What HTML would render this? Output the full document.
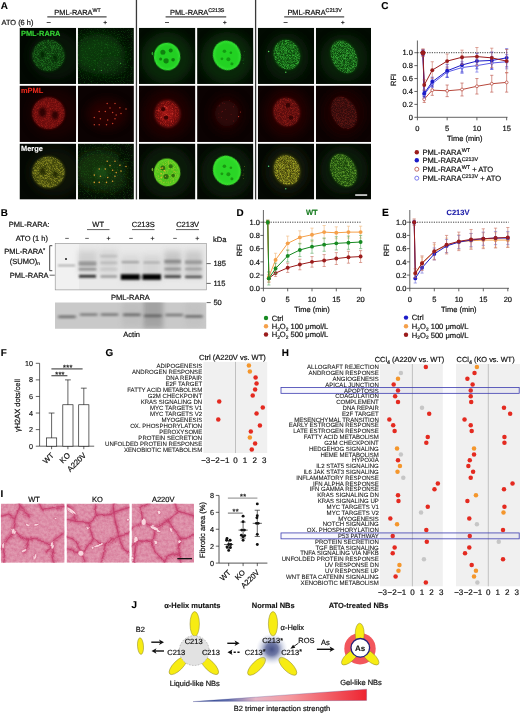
<!DOCTYPE html>
<html lang="en"><head><meta charset="utf-8"><title>Figure</title>
<style>
html,body{margin:0;padding:0;background:#fff;}
body{width:520px;height:713px;overflow:hidden;}
svg{display:block;}
svg text{font-family:"Liberation Sans",sans-serif;text-rendering:geometricPrecision;}
</style></head><body>
<svg width="520" height="713" viewBox="0 0 520 713">
<defs>

<filter id="spk1" x="-5%" y="-5%" width="110%" height="110%" color-interpolation-filters="sRGB">
  <feTurbulence type="fractalNoise" baseFrequency="1.6" numOctaves="1" seed="3" result="n"/>
  <feColorMatrix in="n" type="matrix" values="0 0 0 0 0  0 0 0 0 0  0 0 0 0 0  3 0 0 0 -1.2" result="a"/>
  <feComposite in="SourceGraphic" in2="a" operator="in"/><feGaussianBlur stdDeviation="0.3"/>
</filter>
<filter id="spk2" x="-5%" y="-5%" width="110%" height="110%" color-interpolation-filters="sRGB">
  <feTurbulence type="fractalNoise" baseFrequency="1.3" numOctaves="1" seed="11" result="n"/>
  <feColorMatrix in="n" type="matrix" values="0 0 0 0 0  0 0 0 0 0  0 0 0 0 0  0 4 0 0 -2.05" result="a"/>
  <feComposite in="SourceGraphic" in2="a" operator="in"/><feGaussianBlur stdDeviation="0.3"/>
</filter>
<filter id="spk3" x="-5%" y="-5%" width="110%" height="110%" color-interpolation-filters="sRGB">
  <feTurbulence type="turbulence" baseFrequency="0.6" numOctaves="2" seed="23" result="n"/>
  <feColorMatrix in="n" type="matrix" values="0 0 0 0 0  0 0 0 0 0  0 0 0 0 0  0 0 3 0 -0.5" result="a"/>
  <feComposite in="SourceGraphic" in2="a" operator="in"/><feGaussianBlur stdDeviation="0.3"/>
</filter>
<filter id="b1" x="-20%" y="-20%" width="140%" height="140%"><feGaussianBlur stdDeviation="0.8"/></filter>
<filter id="b2" x="-30%" y="-30%" width="160%" height="160%"><feGaussianBlur stdDeviation="2"/></filter>
<filter id="b5" x="-50%" y="-50%" width="200%" height="200%"><feGaussianBlur stdDeviation="5"/></filter>
<filter id="b05" x="-20%" y="-20%" width="140%" height="140%"><feGaussianBlur stdDeviation="0.45"/></filter>

<clipPath id="cl00"><rect x="19.5" y="27.8" width="56.7" height="56.15"/></clipPath>
<clipPath id="cl01"><rect x="19.5" y="85.55" width="56.7" height="56.4"/></clipPath>
<clipPath id="cl02"><rect x="19.5" y="143.55" width="56.7" height="56.05"/></clipPath>
<clipPath id="cl10"><rect x="77.8" y="27.8" width="56.1" height="56.15"/></clipPath>
<clipPath id="cl11"><rect x="77.8" y="85.55" width="56.1" height="56.4"/></clipPath>
<clipPath id="cl12"><rect x="77.8" y="143.55" width="56.1" height="56.05"/></clipPath>
<clipPath id="cl20"><rect x="138.9" y="27.8" width="56.5" height="56.15"/></clipPath>
<clipPath id="cl21"><rect x="138.9" y="85.55" width="56.5" height="56.4"/></clipPath>
<clipPath id="cl22"><rect x="138.9" y="143.55" width="56.5" height="56.05"/></clipPath>
<clipPath id="cl30"><rect x="197.1" y="27.8" width="56.3" height="56.15"/></clipPath>
<clipPath id="cl31"><rect x="197.1" y="85.55" width="56.3" height="56.4"/></clipPath>
<clipPath id="cl32"><rect x="197.1" y="143.55" width="56.3" height="56.05"/></clipPath>
<clipPath id="cl40"><rect x="257.8" y="27.8" width="56.4" height="56.15"/></clipPath>
<clipPath id="cl41"><rect x="257.8" y="85.55" width="56.4" height="56.4"/></clipPath>
<clipPath id="cl42"><rect x="257.8" y="143.55" width="56.4" height="56.05"/></clipPath>
<clipPath id="cl50"><rect x="315.8" y="27.8" width="55.2" height="56.15"/></clipPath>
<clipPath id="cl51"><rect x="315.8" y="85.55" width="55.2" height="56.4"/></clipPath>
<clipPath id="cl52"><rect x="315.8" y="143.55" width="55.2" height="56.05"/></clipPath>
<clipPath id="blot1"><rect x="55" y="243.2" width="151.5" height="46.8"/></clipPath>
<clipPath id="blot2"><rect x="55" y="302.4" width="151.5" height="26.4"/></clipPath>
<filter id="bb" x="-10%" y="-100%" width="120%" height="300%"><feGaussianBlur stdDeviation="1.3 0.8"/></filter>
<filter id="bb2" x="-10%" y="-100%" width="120%" height="300%"><feGaussianBlur stdDeviation="1.5 1.3"/></filter>
<filter id="bb3" x="-30%" y="-30%" width="160%" height="160%"><feGaussianBlur stdDeviation="2.5 3"/></filter>
<filter id="hn" x="0" y="0" width="100%" height="100%" color-interpolation-filters="sRGB">
<feTurbulence type="fractalNoise" baseFrequency="0.35" numOctaves="3" seed="5" result="n"/>
<feColorMatrix in="n" type="matrix" values="0 0 0 0 0.80  0 0 0 0 0.36  0 0 0 0 0.52  1.6 0 0 0 -0.5"/>
<feComposite in2="SourceGraphic" operator="in"/></filter>
<filter id="hdisp" x="-5%" y="-5%" width="110%" height="110%"><feTurbulence type="fractalNoise" baseFrequency="0.07" numOctaves="1" seed="8" result="t"/><feDisplacementMap in="SourceGraphic" in2="t" scale="7" xChannelSelector="R" yChannelSelector="G"/><feGaussianBlur stdDeviation="0.4"/></filter>
<filter id="hb2" x="-10%" y="-10%" width="120%" height="120%"><feGaussianBlur stdDeviation="1.2"/></filter>
<clipPath id="hc0"><rect x="0.8" y="503.6" width="63.8" height="59.2"/></clipPath>
<clipPath id="hc1"><rect x="66.6" y="503.6" width="63.0" height="59.2"/></clipPath>
<clipPath id="hc2"><rect x="131.6" y="503.6" width="62.4" height="59.2"/></clipPath>
<radialGradient id="nbblue" cx="50%" cy="50%" r="50%">
<stop offset="0" stop-color="#36427c" stop-opacity="0.92"/><stop offset="0.38" stop-color="#4c5890" stop-opacity="0.8"/><stop offset="0.7" stop-color="#9aa4c8" stop-opacity="0.4"/><stop offset="1" stop-color="#d0d6ea" stop-opacity="0"/></radialGradient>
<linearGradient id="trig" x1="0" y1="0" x2="1" y2="0">
<stop offset="0" stop-color="#1e3f8e"/><stop offset="0.2" stop-color="#5c6cac"/><stop offset="0.36" stop-color="#e6b6c6"/><stop offset="0.55" stop-color="#f59aa0"/><stop offset="1" stop-color="#ee2430"/></linearGradient>
</defs>
<rect x="0" y="0" width="520" height="713" fill="#ffffff"/>
<g id="panelA">
<text x="0.70" y="8.70" font-size="9.9" text-anchor="start" font-weight="bold" fill="#000"  stroke="#000" stroke-width="0.12">A</text>
<text x="77.6" y="14.6" font-size="7.4" text-anchor="middle" fill="#111" stroke="#111" stroke-width="0.2">PML-RARA<tspan font-size="5.3" dy="-2.6">WT</tspan></text>
<path d="M47.3 16.9H106.6" stroke="#4a4a4a" stroke-width="1.1"/>
<path d="M46.699999999999996 22.5H50.699999999999996" stroke="#222" stroke-width="0.8"/>
<path d="M103.5 22.5h3.4M105.19999999999999 20.8v3.4" stroke="#222" stroke-width="0.8"/>
<text x="197.2" y="14.6" font-size="7.4" text-anchor="middle" fill="#111" stroke="#111" stroke-width="0.2">PML-RARA<tspan font-size="5.3" dy="-2.6">C213S</tspan></text>
<path d="M165.6 16.9H226.2" stroke="#4a4a4a" stroke-width="1.1"/>
<path d="M165.0 22.5H169.0" stroke="#222" stroke-width="0.8"/>
<path d="M223.1 22.5h3.4M224.79999999999998 20.8v3.4" stroke="#222" stroke-width="0.8"/>
<text x="314.6" y="14.6" font-size="7.4" text-anchor="middle" fill="#111" stroke="#111" stroke-width="0.2">PML-RARA<tspan font-size="5.3" dy="-2.6">C213V</tspan></text>
<path d="M284.2 16.9H344.2" stroke="#4a4a4a" stroke-width="1.1"/>
<path d="M283.59999999999997 22.5H287.59999999999997" stroke="#222" stroke-width="0.8"/>
<path d="M341.09999999999997 22.5h3.4M342.8 20.8v3.4" stroke="#222" stroke-width="0.8"/>
<text x="1.60" y="25.00" font-size="7.4" text-anchor="start" font-weight="normal" fill="#111"  stroke="#111" stroke-width="0.2">ATO (6 h)</text>
<path d="M136.45 0V199.6M255.6 0V199.6" stroke="#3a3a3a" stroke-width="1.3"/>
<g clip-path="url(#cl00)"><rect x="19.5" y="27.8" width="56.7" height="56.15" fill="#020802"/><ellipse cx="54.5" cy="55.5" rx="26" ry="24" fill="#082408" opacity="0.5" filter="url(#b5)"/><ellipse cx="48.5" cy="55.5" rx="16.5" ry="16.0" fill="#0c3e0c" opacity="0.9" filter="url(#b1)"/><g filter="url(#spk1)" opacity="0.5"><ellipse cx="48.5" cy="55.5" rx="16.2" ry="15.7" fill="#32aa32" opacity="1"/></g><ellipse cx="42.5" cy="54.5" rx="2.6" ry="3.3" fill="#052005" opacity="0.85" filter="url(#b1)"/><ellipse cx="55.0" cy="57.5" rx="2.4" ry="2.9" fill="#052005" opacity="0.85" filter="url(#b1)"/></g>
<g clip-path="url(#cl01)"><rect x="19.5" y="85.55" width="56.7" height="56.4" fill="#0c0202"/><ellipse cx="54.5" cy="113.3" rx="26" ry="24" fill="#260404" opacity="0.5" filter="url(#b5)"/><ellipse cx="48.5" cy="113.3" rx="16.5" ry="16.0" fill="#700f0f" opacity="0.95" filter="url(#b1)"/><g filter="url(#spk1)" opacity="0.4"><ellipse cx="48.5" cy="113.3" rx="16.2" ry="15.7" fill="#cc2e24" opacity="1"/></g><ellipse cx="42.5" cy="112.3" rx="3.77" ry="4.784999999999999" fill="#240303" opacity="0.85" filter="url(#b1)"/><ellipse cx="55.0" cy="115.3" rx="3.48" ry="4.205" fill="#240303" opacity="0.85" filter="url(#b1)"/></g>
<g clip-path="url(#cl02)"><rect x="19.5" y="143.55" width="56.7" height="56.05" fill="#040803"/><ellipse cx="54.5" cy="172.2" rx="26" ry="24" fill="#141f08" opacity="0.5" filter="url(#b5)"/><ellipse cx="48.5" cy="172.2" rx="16.5" ry="16.0" fill="#454c0e" opacity="0.95" filter="url(#b1)"/><g filter="url(#spk1)" opacity="0.6"><ellipse cx="48.5" cy="172.2" rx="16.2" ry="15.7" fill="#c0bc32" opacity="1"/></g><ellipse cx="42.5" cy="171.2" rx="2.8600000000000003" ry="3.63" fill="#1a2206" opacity="0.85" filter="url(#b1)"/><ellipse cx="55.0" cy="174.2" rx="2.64" ry="3.19" fill="#1a2206" opacity="0.85" filter="url(#b1)"/></g>
<g clip-path="url(#cl10)"><rect x="77.8" y="27.8" width="56.1" height="56.15" fill="#031003"/><ellipse cx="99" cy="54" rx="26" ry="20" fill="#0f3c0f" opacity="0.9" filter="url(#b5)"/><ellipse cx="112" cy="66" rx="16" ry="10" fill="#0c300c" opacity="0.6" filter="url(#b5)"/><ellipse cx="123" cy="43.3" rx="2.6" ry="2.3" fill="#020802" opacity="0.9" filter="url(#b1)"/><g filter="url(#spk2)" opacity="0.3"><rect x="77.8" y="27.8" width="57" height="57" fill="#238a23"/></g><g fill="#40c040" opacity="0.7"><circle cx="107.9" cy="64.8" r="0.59"/><circle cx="101.6" cy="70.4" r="0.54"/><circle cx="101.8" cy="50.9" r="0.51"/><circle cx="106.0" cy="44.4" r="0.42"/><circle cx="94.2" cy="69.7" r="0.58"/><circle cx="89.4" cy="66.3" r="0.39"/><circle cx="107.7" cy="47.5" r="0.35"/><circle cx="117.9" cy="49.9" r="0.41"/><circle cx="104.6" cy="63.0" r="0.41"/><circle cx="120.6" cy="63.3" r="0.64"/><circle cx="118.7" cy="52.4" r="0.46"/><circle cx="89.6" cy="48.1" r="0.37"/><circle cx="95.1" cy="60.9" r="0.35"/><circle cx="110.1" cy="53.5" r="0.44"/></g></g>
<g clip-path="url(#cl11)"><rect x="77.8" y="85.55" width="56.1" height="56.4" fill="#0b0202"/><ellipse cx="107" cy="114" rx="20" ry="15" fill="#2e0606" opacity="0.8" filter="url(#b5)"/><g fill="#e04a32" opacity="0.85" filter="url(#b05)"><circle cx="107.2" cy="103.6" r="0.75"/><circle cx="115" cy="103.6" r="0.75"/><circle cx="119.9" cy="107.7" r="0.75"/><circle cx="126" cy="108.9" r="0.75"/><circle cx="99.2" cy="111.4" r="0.75"/><circle cx="105.3" cy="111.4" r="0.75"/><circle cx="112.6" cy="112.6" r="0.75"/><circle cx="116.2" cy="115" r="0.75"/><circle cx="94.3" cy="117.5" r="0.75"/><circle cx="100.4" cy="118.7" r="0.75"/><circle cx="107.7" cy="119.9" r="0.75"/><circle cx="115" cy="118.7" r="0.75"/><circle cx="99.2" cy="124.8" r="0.75"/><circle cx="106.5" cy="124.8" r="0.75"/><circle cx="112.6" cy="123.6" r="0.75"/><circle cx="94.3" cy="124.8" r="0.75"/><circle cx="121" cy="113.5" r="0.75"/><circle cx="110" cy="108" r="0.75"/></g></g>
<g clip-path="url(#cl12)"><rect x="77.8" y="143.55" width="56.1" height="56.05" fill="#050e04"/><ellipse cx="100" cy="170" rx="26" ry="20" fill="#183610" opacity="0.9" filter="url(#b5)"/><ellipse cx="112" cy="182" rx="16" ry="10" fill="#14300c" opacity="0.6" filter="url(#b5)"/><ellipse cx="101" cy="172" rx="7" ry="6" fill="#1e5216" opacity="0.7" filter="url(#b2)"/><ellipse cx="121.5" cy="158" rx="2.6" ry="2.3" fill="#020802" opacity="0.9" filter="url(#b1)"/><g filter="url(#spk2)" opacity="0.3"><rect x="77.8" y="143.55" width="57" height="57" fill="#2c8a23"/></g><g fill="#e8a034" opacity="0.9" filter="url(#b05)"><circle cx="107.2" cy="161.2" r="0.78"/><circle cx="115" cy="161.2" r="0.78"/><circle cx="119.9" cy="165.3" r="0.78"/><circle cx="126" cy="166.5" r="0.78"/><circle cx="99.2" cy="169.0" r="0.78"/><circle cx="105.3" cy="169.0" r="0.78"/><circle cx="112.6" cy="170.2" r="0.78"/><circle cx="116.2" cy="172.6" r="0.78"/><circle cx="94.3" cy="175.1" r="0.78"/><circle cx="100.4" cy="176.3" r="0.78"/><circle cx="107.7" cy="177.5" r="0.78"/><circle cx="115" cy="176.3" r="0.78"/><circle cx="99.2" cy="182.4" r="0.78"/><circle cx="106.5" cy="182.4" r="0.78"/><circle cx="112.6" cy="181.2" r="0.78"/><circle cx="94.3" cy="182.4" r="0.78"/><circle cx="121" cy="171.1" r="0.78"/><circle cx="110" cy="165.6" r="0.78"/></g></g>
<g clip-path="url(#cl20)"><rect x="138.9" y="27.8" width="56.5" height="56.15" fill="#020c02"/><ellipse cx="167.1" cy="58" rx="26" ry="26" fill="#0b300b" opacity="0.75" filter="url(#b5)"/><ellipse cx="167.1" cy="56.6" rx="13.1" ry="13.8" fill="#34e234" opacity="1" transform="rotate(-10 167.1 56.6)" filter="url(#b05)"/><ellipse cx="167.1" cy="56.6" rx="11.6" ry="12.3" fill="#22cf22" opacity="1" transform="rotate(-10 167.1 56.6)" filter="url(#b1)"/><ellipse cx="162.9" cy="52.2" rx="2.5" ry="2.5" fill="#0e7a0e" opacity="0.9" filter="url(#b05)"/><ellipse cx="170.7" cy="50.4" rx="2.0" ry="2.0" fill="#0e7a0e" opacity="0.9" filter="url(#b05)"/><ellipse cx="166.1" cy="60.800000000000004" rx="2.6" ry="2.6" fill="#0e7a0e" opacity="0.9" filter="url(#b05)"/><ellipse cx="173.1" cy="59.800000000000004" rx="1.8" ry="1.8" fill="#0e7a0e" opacity="0.9" filter="url(#b05)"/><ellipse cx="160.6" cy="59.1" rx="1.5" ry="1.5" fill="#0e7a0e" opacity="0.9" filter="url(#b05)"/><ellipse cx="152.4" cy="53.5" rx="0.8" ry="1.7" fill="#2fae2f" opacity="0.9"/></g>
<g clip-path="url(#cl21)"><rect x="138.9" y="85.55" width="56.5" height="56.4" fill="#0d0202"/><ellipse cx="167.1" cy="114" rx="24" ry="24" fill="#260505" opacity="0.75" filter="url(#b5)"/><ellipse cx="167.5" cy="113.8" rx="13.2" ry="14.2" fill="#6c0f0f" opacity="0.95" transform="rotate(-10 167.5 113.8)" filter="url(#b1)"/><ellipse cx="167.1" cy="114.0" rx="7.5" ry="8.5" fill="#a81818" opacity="0.7" filter="url(#b2)"/><g filter="url(#spk3)" opacity="0.5"><ellipse cx="167.1" cy="113.6" rx="12.0" ry="12.8" fill="#d02c22" opacity="1"/></g><g fill="#f05040" opacity="0.8"><circle cx="161.1" cy="117.4" r="0.65"/><circle cx="166.7" cy="107.9" r="0.71"/><circle cx="172.6" cy="113.8" r="0.60"/><circle cx="164.8" cy="115.3" r="0.44"/><circle cx="172.4" cy="108.2" r="0.50"/><circle cx="171.4" cy="121.1" r="0.64"/><circle cx="158.7" cy="110.2" r="0.60"/><circle cx="164.7" cy="106.7" r="0.71"/><circle cx="166.3" cy="114.6" r="0.54"/><circle cx="166.8" cy="107.3" r="0.43"/></g><ellipse cx="163.1" cy="109.2" rx="2.1" ry="2.1" fill="#340606" opacity="0.9" filter="url(#b05)"/><ellipse cx="166.1" cy="117.6" rx="2.2" ry="2.2" fill="#340606" opacity="0.9" filter="url(#b05)"/></g>
<g clip-path="url(#cl22)"><rect x="138.9" y="143.55" width="56.5" height="56.05" fill="#040903"/><ellipse cx="167.1" cy="172" rx="26" ry="26" fill="#0f2208" opacity="0.75" filter="url(#b5)"/><ellipse cx="167.1" cy="172.4" rx="13.1" ry="13.8" fill="#66d428" opacity="1" transform="rotate(-10 167.1 172.4)" filter="url(#b05)"/><ellipse cx="167.1" cy="172.4" rx="11.6" ry="12.3" fill="#50c41e" opacity="1" transform="rotate(-10 167.1 172.4)" filter="url(#b1)"/><g filter="url(#spk3)" opacity="0.42"><ellipse cx="167.1" cy="172.4" rx="11.5" ry="12.2" fill="#d8cc38" opacity="1"/></g><ellipse cx="162.9" cy="168.0" rx="2.5" ry="2.5" fill="#2a660c" opacity="0.9" filter="url(#b05)"/><ellipse cx="170.7" cy="166.20000000000002" rx="2.0" ry="2.0" fill="#2a660c" opacity="0.9" filter="url(#b05)"/><ellipse cx="166.1" cy="176.6" rx="2.6" ry="2.6" fill="#2a660c" opacity="0.9" filter="url(#b05)"/><ellipse cx="173.1" cy="175.6" rx="1.8" ry="1.8" fill="#2a660c" opacity="0.9" filter="url(#b05)"/><g fill="#f0b030" opacity="0.9"><circle cx="165.4" cy="176.3" r="0.55"/><circle cx="160.9" cy="168.2" r="0.81"/><circle cx="161.5" cy="177.3" r="0.77"/><circle cx="161.3" cy="173.6" r="0.68"/><circle cx="174.1" cy="171.3" r="0.57"/><circle cx="164.4" cy="170.6" r="0.89"/><circle cx="162.5" cy="167.9" r="0.74"/></g><ellipse cx="152.4" cy="169.5" rx="0.8" ry="1.7" fill="#80b830" opacity="0.9"/></g>
<g clip-path="url(#cl30)"><rect x="197.1" y="27.8" width="56.3" height="56.15" fill="#020c02"/><ellipse cx="226.9" cy="58" rx="26" ry="26" fill="#0b300b" opacity="0.75" filter="url(#b5)"/><ellipse cx="226.9" cy="55.4" rx="13.7" ry="14.9" fill="#34e234" opacity="1" transform="rotate(-25 226.9 55.4)" filter="url(#b05)"/><ellipse cx="226.9" cy="55.4" rx="12.2" ry="13.4" fill="#24d224" opacity="1" transform="rotate(-25 226.9 55.4)" filter="url(#b1)"/><ellipse cx="224.4" cy="51.3" rx="1.8" ry="1.8" fill="#119011" opacity="0.8" filter="url(#b05)"/><ellipse cx="228.4" cy="59.3" rx="2.0" ry="2.0" fill="#119011" opacity="0.8" filter="url(#b05)"/><ellipse cx="231.9" cy="63.8" rx="1.5" ry="1.5" fill="#119011" opacity="0.8" filter="url(#b05)"/><ellipse cx="221.9" cy="58.8" rx="1.4" ry="1.4" fill="#119011" opacity="0.8" filter="url(#b05)"/><ellipse cx="230.9" cy="52.8" rx="1.3" ry="1.3" fill="#119011" opacity="0.8" filter="url(#b05)"/><g fill="#2a9a2a" opacity="0.8"><circle cx="243.4" cy="55.0" r="0.35"/><circle cx="243.6" cy="63.4" r="0.34"/><circle cx="243.9" cy="58.9" r="0.33"/><circle cx="243.0" cy="60.3" r="0.44"/><circle cx="244.7" cy="51.5" r="0.38"/></g></g>
<g clip-path="url(#cl31)"><rect x="197.1" y="85.55" width="56.3" height="56.4" fill="#0b0202"/><ellipse cx="226.9" cy="114" rx="18" ry="20" fill="#220404" opacity="0.7" filter="url(#b5)"/><ellipse cx="226.9" cy="113.5" rx="12" ry="13" fill="#340808" opacity="0.7" filter="url(#b2)"/><g fill="#a82020" opacity="0.6"><circle cx="221.6" cy="117.8" r="0.47"/><circle cx="234.6" cy="104.8" r="0.35"/><circle cx="219.1" cy="105.9" r="0.48"/><circle cx="218.8" cy="113.8" r="0.35"/><circle cx="222.4" cy="111.2" r="0.51"/><circle cx="229.3" cy="100.4" r="0.36"/><circle cx="233.7" cy="121.0" r="0.50"/><circle cx="233.4" cy="106.7" r="0.51"/><circle cx="226.6" cy="119.6" r="0.44"/><circle cx="225.4" cy="109.5" r="0.40"/><circle cx="222.8" cy="103.1" r="0.50"/><circle cx="231.1" cy="114.4" r="0.48"/><circle cx="218.9" cy="117.6" r="0.41"/><circle cx="219.8" cy="105.3" r="0.43"/><circle cx="221.5" cy="111.9" r="0.45"/><circle cx="224.6" cy="103.4" r="0.42"/></g><circle cx="238.6" cy="116.6" r="0.6" fill="#d04030"/><circle cx="240.4" cy="112" r="0.5" fill="#c03828"/></g>
<g clip-path="url(#cl32)"><rect x="197.1" y="143.55" width="56.3" height="56.05" fill="#040903"/><ellipse cx="226.9" cy="172" rx="26" ry="26" fill="#0e2208" opacity="0.75" filter="url(#b5)"/><ellipse cx="226.9" cy="170.5" rx="13.7" ry="14.9" fill="#3ee632" opacity="1" transform="rotate(-25 226.9 170.5)" filter="url(#b05)"/><ellipse cx="226.9" cy="170.5" rx="12.2" ry="13.4" fill="#2cd626" opacity="1" transform="rotate(-25 226.9 170.5)" filter="url(#b1)"/><ellipse cx="224.4" cy="166.3" rx="1.8" ry="1.8" fill="#168a10" opacity="0.8" filter="url(#b05)"/><ellipse cx="228.4" cy="174.3" rx="2.0" ry="2.0" fill="#168a10" opacity="0.8" filter="url(#b05)"/><ellipse cx="231.9" cy="178.8" rx="1.5" ry="1.5" fill="#168a10" opacity="0.8" filter="url(#b05)"/><ellipse cx="221.9" cy="173.8" rx="1.4" ry="1.4" fill="#168a10" opacity="0.8" filter="url(#b05)"/><ellipse cx="230.9" cy="167.8" rx="1.3" ry="1.3" fill="#168a10" opacity="0.8" filter="url(#b05)"/><g fill="#a8a030" opacity="0.85"><circle cx="243.4" cy="170.0" r="0.35"/><circle cx="243.6" cy="178.4" r="0.34"/><circle cx="243.9" cy="173.9" r="0.33"/><circle cx="243.0" cy="175.3" r="0.44"/><circle cx="244.7" cy="166.5" r="0.38"/></g></g>
<g clip-path="url(#cl40)"><rect x="257.8" y="27.8" width="56.4" height="56.15" fill="#020b02"/><ellipse cx="286.9" cy="57" rx="22" ry="24" fill="#092609" opacity="0.7" filter="url(#b5)"/><ellipse cx="286.9" cy="54.8" rx="13.4" ry="15.6" fill="#0e4c0e" opacity="0.95" transform="rotate(-20 286.9 54.8)" filter="url(#b1)"/><g filter="url(#spk1)" opacity="0.68"><ellipse cx="286.9" cy="54.8" rx="13.0" ry="15.2" fill="#46d846" opacity="1" transform="rotate(-20 286.9 54.8)"/></g><g filter="url(#spk3)" opacity="0.3"><ellipse cx="286.9" cy="54.8" rx="13.0" ry="15.2" fill="#38c438" opacity="1" transform="rotate(-20 286.9 54.8)"/></g><circle cx="268.6" cy="51.6" r="0.75" fill="#58d858"/><circle cx="285.8" cy="72.2" r="0.7" fill="#50d050"/></g>
<g clip-path="url(#cl41)"><rect x="257.8" y="85.55" width="56.4" height="56.4" fill="#0d0202"/><ellipse cx="286.9" cy="113" rx="22" ry="24" fill="#2a0505" opacity="0.75" filter="url(#b5)"/><ellipse cx="286.59999999999997" cy="112.0" rx="13.6" ry="14.8" fill="#5c0b0b" opacity="0.95" transform="rotate(-20 286.59999999999997 112.0)" filter="url(#b1)"/><g filter="url(#spk1)" opacity="0.42"><ellipse cx="286.59999999999997" cy="112.0" rx="13.0" ry="14.4" fill="#d03024" opacity="1" transform="rotate(-20 286.59999999999997 112.0)"/></g><ellipse cx="287.9" cy="105.2" rx="2.2" ry="2.6" fill="#260404" opacity="0.8" filter="url(#b05)"/><ellipse cx="290.9" cy="117.5" rx="2.2" ry="2.2" fill="#260404" opacity="0.7" filter="url(#b05)"/></g>
<g clip-path="url(#cl42)"><rect x="257.8" y="143.55" width="56.4" height="56.05" fill="#040803"/><ellipse cx="286.9" cy="170" rx="22" ry="24" fill="#121c08" opacity="0.75" filter="url(#b5)"/><ellipse cx="286.9" cy="170.1" rx="13.4" ry="15.8" fill="#4a4a0d" opacity="0.95" transform="rotate(-20 286.9 170.1)" filter="url(#b1)"/><g filter="url(#spk1)" opacity="0.62"><ellipse cx="286.9" cy="170.1" rx="13.0" ry="15.4" fill="#e0d838" opacity="1" transform="rotate(-20 286.9 170.1)"/></g><g filter="url(#spk3)" opacity="0.3"><ellipse cx="286.9" cy="170.1" rx="13.0" ry="15.4" fill="#a8c42e" opacity="1" transform="rotate(-20 286.9 170.1)"/></g><circle cx="268.6" cy="166.2" r="0.75" fill="#50d878"/><circle cx="285.8" cy="188.8" r="0.7" fill="#50d070"/></g>
<g clip-path="url(#cl50)"><rect x="315.8" y="27.8" width="55.2" height="56.15" fill="#020b02"/><ellipse cx="344.0" cy="58" rx="24" ry="24" fill="#092a09" opacity="0.7" filter="url(#b5)"/><ellipse cx="344.0" cy="56.8" rx="12.8" ry="17.6" fill="#0f4a0f" opacity="0.9" transform="rotate(-26 344.0 56.8)" filter="url(#b1)"/><g filter="url(#spk1)" opacity="0.62"><ellipse cx="344.0" cy="56.8" rx="12.4" ry="17.2" fill="#50e050" opacity="1" transform="rotate(-26 344.0 56.8)"/></g><g filter="url(#spk3)" opacity="0.25"><ellipse cx="344.0" cy="56.8" rx="12.4" ry="17.2" fill="#38c838" opacity="1" transform="rotate(-26 344.0 56.8)"/></g></g>
<g clip-path="url(#cl51)"><rect x="315.8" y="85.55" width="55.2" height="56.4" fill="#0c0202"/><ellipse cx="344.0" cy="113" rx="22" ry="24" fill="#240404" opacity="0.75" filter="url(#b5)"/><ellipse cx="344.0" cy="112.8" rx="12.6" ry="17.2" fill="#340707" opacity="0.9" transform="rotate(-26 344.0 112.8)" filter="url(#b1)"/><g filter="url(#spk1)" opacity="0.3"><ellipse cx="344.0" cy="112.8" rx="12.2" ry="17" fill="#c83226" opacity="1" transform="rotate(-26 344.0 112.8)"/></g></g>
<g clip-path="url(#cl52)"><rect x="315.8" y="143.55" width="55.2" height="56.05" fill="#040903"/><ellipse cx="344.0" cy="170" rx="24" ry="24" fill="#102208" opacity="0.75" filter="url(#b5)"/><ellipse cx="343.4" cy="170.3" rx="12.8" ry="17.6" fill="#1f4a0f" opacity="0.9" transform="rotate(-26 343.4 170.3)" filter="url(#b1)"/><g filter="url(#spk1)" opacity="0.52"><ellipse cx="343.4" cy="170.3" rx="12.4" ry="17.2" fill="#98e044" opacity="1" transform="rotate(-26 343.4 170.3)"/></g><g filter="url(#spk3)" opacity="0.22"><ellipse cx="343.4" cy="170.3" rx="12.4" ry="17.2" fill="#60c834" opacity="1" transform="rotate(-26 343.4 170.3)"/></g><rect x="355.2" y="194.3" width="12" height="1.5" fill="#f0f0f0"/></g>
<text x="21.00" y="35.60" font-size="7.4" text-anchor="start" font-weight="bold" fill="#36da36"  stroke="#36da36" stroke-width="0.12">PML-RARA</text>
<text x="21.00" y="93.20" font-size="7.4" text-anchor="start" font-weight="bold" fill="#ea2a1e"  stroke="#ea2a1e" stroke-width="0.12">mPML</text>
<text x="21.00" y="151.30" font-size="7.4" text-anchor="start" font-weight="bold" fill="#ffffff"  stroke="#ffffff" stroke-width="0.12">Merge</text>
</g>
<g id="panelB">
<text x="0.70" y="216.20" font-size="9.9" text-anchor="start" font-weight="bold" fill="#000"  stroke="#000" stroke-width="0.12">B</text>
<text x="8.80" y="226.90" font-size="7.5" text-anchor="start" font-weight="normal" fill="#111"  stroke="#111" stroke-width="0.2">PML-RARA:</text>
<text x="48.00" y="240.70" font-size="7.5" text-anchor="end" font-weight="normal" fill="#111"  stroke="#111" stroke-width="0.2">ATO (1 h)</text>
<text x="98.20" y="226.60" font-size="7.5" text-anchor="middle" font-weight="normal" fill="#111"  stroke="#111" stroke-width="0.2">WT</text>
<path d="M87 229.6H109.5" stroke="#333" stroke-width="0.8"/>
<text x="143.20" y="226.60" font-size="7.5" text-anchor="middle" font-weight="normal" fill="#111"  stroke="#111" stroke-width="0.2">C213S</text>
<path d="M132 229.6H154.5" stroke="#333" stroke-width="0.8"/>
<text x="187.60" y="226.60" font-size="7.5" text-anchor="middle" font-weight="normal" fill="#111"  stroke="#111" stroke-width="0.2">C213V</text>
<path d="M176 229.6H199" stroke="#333" stroke-width="0.8"/>
<path d="M65.2 238.4h3.6" stroke="#222" stroke-width="0.7"/>
<path d="M85.2 238.4h3.6" stroke="#222" stroke-width="0.7"/>
<path d="M106.7 238.4h3.6M108.5 236.6v3.6" stroke="#222" stroke-width="0.7"/>
<path d="M129.2 238.4h3.6" stroke="#222" stroke-width="0.7"/>
<path d="M150.7 238.4h3.6M152.5 236.6v3.6" stroke="#222" stroke-width="0.7"/>
<path d="M173.2 238.4h3.6" stroke="#222" stroke-width="0.7"/>
<path d="M195.5 238.4h3.6M197.3 236.6v3.6" stroke="#222" stroke-width="0.7"/>
<text x="213.00" y="242.00" font-size="7.5" text-anchor="start" font-weight="normal" fill="#111"  stroke="#111" stroke-width="0.2">kDa</text>
<text x="45.3" y="254.2" font-size="7.5" text-anchor="end" fill="#111" stroke="#111" stroke-width="0.2">PML-RARA<tspan font-size="5.6" dy="-2.2">*</tspan></text>
<text x="39.9" y="263.6" font-size="7.5" text-anchor="end" fill="#111" stroke="#111" stroke-width="0.2">(SUMO)<tspan font-size="4.8" dy="1.6">n</tspan></text>
<path d="M52.3 245.7H49.7V270.7H52.3" fill="none" stroke="#222" stroke-width="0.85"/>
<text x="48.60" y="277.80" font-size="7.5" text-anchor="end" font-weight="normal" fill="#111"  stroke="#111" stroke-width="0.2">PML-RARA</text>
<path d="M49.6 275.2H54.8" stroke="#222" stroke-width="0.7"/>
<g clip-path="url(#blot1)"><rect x="55" y="243.2" width="151.5" height="47" fill="#e9e9e9"/><rect x="55" y="243.2" width="24" height="46.5" fill="#f1f1f1"/><rect x="78.0" y="251.00" width="19" height="22" fill="#bbbbbb" opacity="0.55" filter="url(#bb3)"/><rect x="99.5" y="250.00" width="18" height="24" fill="#c4c4c4" opacity="0.5" filter="url(#bb3)"/><rect x="120.8" y="255.00" width="19" height="26" fill="#c8c8c8" opacity="0.5" filter="url(#bb3)"/><rect x="142.2" y="255.00" width="19" height="26" fill="#c4c4c4" opacity="0.55" filter="url(#bb3)"/><rect x="164.2" y="251.00" width="17" height="26" fill="#b4b4b4" opacity="0.65" filter="url(#bb3)"/><rect x="185.0" y="251.00" width="17" height="26" fill="#b8b8b8" opacity="0.65" filter="url(#bb3)"/><rect x="58.0" y="264.85" width="17" height="1.3" fill="#808080" opacity="0.85" filter="url(#bb)"/><circle cx="66" cy="259" r="1.0" fill="#1a1a1a"/><rect x="78.8" y="261.70" width="17.5" height="1.6" fill="#6a6a6a" opacity="0.8" filter="url(#bb)"/><rect x="78.8" y="263.70" width="17.5" height="1.6" fill="#666" opacity="0.8" filter="url(#bb)"/><rect x="78.8" y="268.20" width="17.5" height="2.0" fill="#6c6c6c" opacity="0.8" filter="url(#bb)"/><rect x="79.0" y="275.00" width="17" height="2.6" fill="#222" opacity="1" filter="url(#bb)"/><rect x="100.3" y="255.20" width="17" height="2.0" fill="#aaa" opacity="0.7" filter="url(#bb)"/><rect x="100.3" y="261.70" width="17" height="2.2" fill="#a8a8a8" opacity="0.7" filter="url(#bb)"/><rect x="100.3" y="268.60" width="17" height="1.6" fill="#b0b0b0" opacity="0.7" filter="url(#bb)"/><rect x="100.5" y="275.50" width="16.5" height="2.0" fill="#777" opacity="0.85" filter="url(#bb)"/><rect x="120.8" y="274.20" width="19" height="5.6" fill="#000" opacity="1" filter="url(#bb)"/><rect x="121.6" y="261.40" width="17.5" height="1.6" fill="#808080" opacity="0.85" filter="url(#bb)"/><rect x="142.4" y="274.20" width="18.6" height="5.6" fill="#000" opacity="1" filter="url(#bb)"/><rect x="143.4" y="261.75" width="16.5" height="1.5" fill="#909090" opacity="0.8" filter="url(#bb)"/><rect x="138.5" y="276.20" width="5" height="2" fill="#555" opacity="0.6" filter="url(#bb)"/><rect x="164.4" y="259.80" width="16.5" height="3.6" fill="#808080" opacity="0.85" filter="url(#bb)"/><rect x="164.5" y="268.00" width="16.3" height="2" fill="#7a7a7a" opacity="0.8" filter="url(#bb)"/><rect x="164.5" y="275.30" width="16.3" height="2.6" fill="#383838" opacity="1" filter="url(#bb)"/><rect x="185.0" y="260.50" width="17" height="3.4" fill="#8e8e8e" opacity="0.85" filter="url(#bb)"/><rect x="185.1" y="268.10" width="16.8" height="1.8" fill="#868686" opacity="0.8" filter="url(#bb)"/><rect x="185.1" y="275.70" width="16.8" height="2.4" fill="#484848" opacity="1" filter="url(#bb)"/></g>
<rect x="55.2" y="243.5" width="151.2" height="46.4" fill="none" stroke="#909090" stroke-width="0.6"/>
<path d="M206.6 263.6H210.8M206.6 283.4H210.8M206.6 302.6H210.8" stroke="#222" stroke-width="0.7"/>
<text x="213.40" y="266.20" font-size="7.5" text-anchor="start" font-weight="normal" fill="#111"  stroke="#111" stroke-width="0.2">185</text>
<text x="213.40" y="286.00" font-size="7.5" text-anchor="start" font-weight="normal" fill="#111"  stroke="#111" stroke-width="0.2">115</text>
<text x="213.40" y="305.20" font-size="7.5" text-anchor="start" font-weight="normal" fill="#111"  stroke="#111" stroke-width="0.2">50</text>
<text x="130.50" y="299.60" font-size="7.5" text-anchor="middle" font-weight="normal" fill="#111"  stroke="#111" stroke-width="0.2">PML-RARA</text>
<g clip-path="url(#blot2)"><rect x="55" y="302" width="151.5" height="27" fill="#c9c9c9"/><rect x="143.0" y="295.00" width="20" height="34" fill="#9c9c9c" opacity="0.85" filter="url(#bb3)"/><rect x="122.3" y="301.00" width="19" height="26" fill="#b8b8b8" opacity="0.6" filter="url(#bb3)"/><rect x="185.3" y="301.00" width="17" height="26" fill="#bcbcbc" opacity="0.5" filter="url(#bb3)"/><rect x="58.2" y="315.40" width="17.5" height="2.8" fill="#707070" opacity="0.95" filter="url(#bb2)"/><rect x="80.0" y="313.20" width="17.5" height="2.8" fill="#808080" opacity="0.95" filter="url(#bb2)"/><rect x="100.8" y="313.20" width="17.5" height="2.8" fill="#7c7c7c" opacity="0.95" filter="url(#bb2)"/><rect x="123.1" y="313.40" width="17.5" height="2.8" fill="#6c6c6c" opacity="0.95" filter="url(#bb2)"/><rect x="144.2" y="314.40" width="17.5" height="2.8" fill="#666" opacity="0.95" filter="url(#bb2)"/><rect x="165.4" y="313.60" width="17.5" height="2.8" fill="#7a7a7a" opacity="0.95" filter="url(#bb2)"/><rect x="185.1" y="315.00" width="17.5" height="2.8" fill="#707070" opacity="0.95" filter="url(#bb2)"/></g>
<text x="131.70" y="336.80" font-size="7.5" text-anchor="middle" font-weight="normal" fill="#111"  stroke="#111" stroke-width="0.2">Actin</text>
</g>
<g id="panelC">
<text x="381.20" y="8.60" font-size="9.9" text-anchor="start" font-weight="bold" fill="#000"  stroke="#000" stroke-width="0.12">C</text>
<path d="M417.40 40.50V117.30H507.50" fill="none" stroke="#3c3c3c" stroke-width="0.8"/>
<path d="M414.40 117.30H417.40" stroke="#3c3c3c" stroke-width="0.8"/>
<text x="412.90" y="120.00" font-size="7.5" text-anchor="end" font-weight="normal" fill="#111"  stroke="#111" stroke-width="0.2">0</text>
<path d="M414.40 104.38H417.40" stroke="#3c3c3c" stroke-width="0.8"/>
<text x="412.90" y="107.08" font-size="7.5" text-anchor="end" font-weight="normal" fill="#111"  stroke="#111" stroke-width="0.2">0.2</text>
<path d="M414.40 91.46H417.40" stroke="#3c3c3c" stroke-width="0.8"/>
<text x="412.90" y="94.16" font-size="7.5" text-anchor="end" font-weight="normal" fill="#111"  stroke="#111" stroke-width="0.2">0.4</text>
<path d="M414.40 78.54H417.40" stroke="#3c3c3c" stroke-width="0.8"/>
<text x="412.90" y="81.24" font-size="7.5" text-anchor="end" font-weight="normal" fill="#111"  stroke="#111" stroke-width="0.2">0.6</text>
<path d="M414.40 65.62H417.40" stroke="#3c3c3c" stroke-width="0.8"/>
<text x="412.90" y="68.32" font-size="7.5" text-anchor="end" font-weight="normal" fill="#111"  stroke="#111" stroke-width="0.2">0.8</text>
<path d="M414.40 52.70H417.40" stroke="#3c3c3c" stroke-width="0.8"/>
<text x="412.90" y="55.40" font-size="7.5" text-anchor="end" font-weight="normal" fill="#111"  stroke="#111" stroke-width="0.2">1.0</text>
<path d="M417.40 117.30v3" stroke="#3c3c3c" stroke-width="0.8"/>
<text x="417.40" y="130.60" font-size="7.5" text-anchor="middle" font-weight="normal" fill="#111"  stroke="#111" stroke-width="0.2">0</text>
<path d="M447.15 117.30v3" stroke="#3c3c3c" stroke-width="0.8"/>
<text x="447.15" y="130.60" font-size="7.5" text-anchor="middle" font-weight="normal" fill="#111"  stroke="#111" stroke-width="0.2">5</text>
<path d="M476.90 117.30v3" stroke="#3c3c3c" stroke-width="0.8"/>
<text x="476.90" y="130.60" font-size="7.5" text-anchor="middle" font-weight="normal" fill="#111"  stroke="#111" stroke-width="0.2">10</text>
<path d="M506.65 117.30v3" stroke="#3c3c3c" stroke-width="0.8"/>
<text x="506.65" y="130.60" font-size="7.5" text-anchor="middle" font-weight="normal" fill="#111"  stroke="#111" stroke-width="0.2">15</text>
<text x="464.72" y="140.70" font-size="7.5" text-anchor="middle" font-weight="normal" fill="#111"  stroke="#111" stroke-width="0.2">Time (min)</text>
<text x="396.40" y="79.90" font-size="7.5" text-anchor="middle" font-weight="normal" fill="#111" transform="rotate(-90 396.40 79.90)" stroke="#111" stroke-width="0.2">RFI</text>
<path d="M417.40 52.70H507.65" stroke="#111" stroke-width="0.8" stroke-dasharray="1.2 1.2"/>
<path d="M422.99 49.47V55.93M421.39 49.47h3.2M421.39 55.93h3.2" stroke="#b8483c" stroke-width="0.7" fill="none" opacity="0.85"/>
<path d="M424.24 95.98V102.44M422.64 95.98h3.2M422.64 102.44h3.2" stroke="#b8483c" stroke-width="0.7" fill="none" opacity="0.85"/>
<path d="M432.27 85.00V95.34M430.67 85.00h3.2M430.67 95.34h3.2" stroke="#b8483c" stroke-width="0.7" fill="none" opacity="0.85"/>
<path d="M447.15 85.00V96.63M445.55 85.00h3.2M445.55 96.63h3.2" stroke="#b8483c" stroke-width="0.7" fill="none" opacity="0.85"/>
<path d="M462.02 83.06V95.98M460.42 83.06h3.2M460.42 95.98h3.2" stroke="#b8483c" stroke-width="0.7" fill="none" opacity="0.85"/>
<path d="M476.90 78.54V94.04M475.30 78.54h3.2M475.30 94.04h3.2" stroke="#b8483c" stroke-width="0.7" fill="none" opacity="0.85"/>
<path d="M491.77 75.31V92.11M490.17 75.31h3.2M490.17 92.11h3.2" stroke="#b8483c" stroke-width="0.7" fill="none" opacity="0.85"/>
<path d="M506.65 72.73V92.11M505.05 72.73h3.2M505.05 92.11h3.2" stroke="#b8483c" stroke-width="0.7" fill="none" opacity="0.85"/>
<path d="M422.99 52.70 L424.24 99.21 L432.27 90.17 L447.15 90.81 L462.02 89.52 L476.90 86.29 L491.77 83.71 L506.65 82.42" fill="none" stroke="#b8483c" stroke-width="1.0"/>
<circle cx="422.99" cy="52.70" r="1.45" fill="#fff" stroke="#b8483c" stroke-width="0.75"/>
<circle cx="424.24" cy="99.21" r="1.45" fill="#fff" stroke="#b8483c" stroke-width="0.75"/>
<circle cx="432.27" cy="90.17" r="1.45" fill="#fff" stroke="#b8483c" stroke-width="0.75"/>
<circle cx="447.15" cy="90.81" r="1.45" fill="#fff" stroke="#b8483c" stroke-width="0.75"/>
<circle cx="462.02" cy="89.52" r="1.45" fill="#fff" stroke="#b8483c" stroke-width="0.75"/>
<circle cx="476.90" cy="86.29" r="1.45" fill="#fff" stroke="#b8483c" stroke-width="0.75"/>
<circle cx="491.77" cy="83.71" r="1.45" fill="#fff" stroke="#b8483c" stroke-width="0.75"/>
<circle cx="506.65" cy="82.42" r="1.45" fill="#fff" stroke="#b8483c" stroke-width="0.75"/>
<path d="M422.99 50.12V55.28M421.39 50.12h3.2M421.39 55.28h3.2" stroke="#5a5ae6" stroke-width="0.7" fill="none" opacity="0.85"/>
<path d="M424.24 91.46V97.92M422.64 91.46h3.2M422.64 97.92h3.2" stroke="#5a5ae6" stroke-width="0.7" fill="none" opacity="0.85"/>
<path d="M432.27 79.83V87.58M430.67 79.83h3.2M430.67 87.58h3.2" stroke="#5a5ae6" stroke-width="0.7" fill="none" opacity="0.85"/>
<path d="M447.15 66.91V77.25M445.55 66.91h3.2M445.55 77.25h3.2" stroke="#5a5ae6" stroke-width="0.7" fill="none" opacity="0.85"/>
<path d="M462.02 61.74V73.37M460.42 61.74h3.2M460.42 73.37h3.2" stroke="#5a5ae6" stroke-width="0.7" fill="none" opacity="0.85"/>
<path d="M476.90 59.16V72.08M475.30 59.16h3.2M475.30 72.08h3.2" stroke="#5a5ae6" stroke-width="0.7" fill="none" opacity="0.85"/>
<path d="M491.77 56.58V69.50M490.17 56.58h3.2M490.17 69.50h3.2" stroke="#5a5ae6" stroke-width="0.7" fill="none" opacity="0.85"/>
<path d="M506.65 54.64V68.85M505.05 54.64h3.2M505.05 68.85h3.2" stroke="#5a5ae6" stroke-width="0.7" fill="none" opacity="0.85"/>
<path d="M422.99 52.70 L424.24 94.69 L432.27 83.71 L447.15 72.08 L462.02 67.56 L476.90 65.62 L491.77 63.04 L506.65 61.74" fill="none" stroke="#5a5ae6" stroke-width="1.0"/>
<circle cx="422.99" cy="52.70" r="1.45" fill="#fff" stroke="#5a5ae6" stroke-width="0.75"/>
<circle cx="424.24" cy="94.69" r="1.45" fill="#fff" stroke="#5a5ae6" stroke-width="0.75"/>
<circle cx="432.27" cy="83.71" r="1.45" fill="#fff" stroke="#5a5ae6" stroke-width="0.75"/>
<circle cx="447.15" cy="72.08" r="1.45" fill="#fff" stroke="#5a5ae6" stroke-width="0.75"/>
<circle cx="462.02" cy="67.56" r="1.45" fill="#fff" stroke="#5a5ae6" stroke-width="0.75"/>
<circle cx="476.90" cy="65.62" r="1.45" fill="#fff" stroke="#5a5ae6" stroke-width="0.75"/>
<circle cx="491.77" cy="63.04" r="1.45" fill="#fff" stroke="#5a5ae6" stroke-width="0.75"/>
<circle cx="506.65" cy="61.74" r="1.45" fill="#fff" stroke="#5a5ae6" stroke-width="0.75"/>
<path d="M422.99 50.12V55.28M421.39 50.12h3.2M421.39 55.28h3.2" stroke="#1c1cc8" stroke-width="0.7" fill="none" opacity="0.85"/>
<path d="M424.24 90.17V96.63M422.64 90.17h3.2M422.64 96.63h3.2" stroke="#1c1cc8" stroke-width="0.7" fill="none" opacity="0.85"/>
<path d="M432.27 77.25V86.29M430.67 77.25h3.2M430.67 86.29h3.2" stroke="#1c1cc8" stroke-width="0.7" fill="none" opacity="0.85"/>
<path d="M447.15 64.33V77.25M445.55 64.33h3.2M445.55 77.25h3.2" stroke="#1c1cc8" stroke-width="0.7" fill="none" opacity="0.85"/>
<path d="M462.02 57.87V72.08M460.42 57.87h3.2M460.42 72.08h3.2" stroke="#1c1cc8" stroke-width="0.7" fill="none" opacity="0.85"/>
<path d="M476.90 53.35V68.85M475.30 53.35h3.2M475.30 68.85h3.2" stroke="#1c1cc8" stroke-width="0.7" fill="none" opacity="0.85"/>
<path d="M491.77 52.05V68.85M490.17 52.05h3.2M490.17 68.85h3.2" stroke="#1c1cc8" stroke-width="0.7" fill="none" opacity="0.85"/>
<path d="M506.65 48.82V66.91M505.05 48.82h3.2M505.05 66.91h3.2" stroke="#1c1cc8" stroke-width="0.7" fill="none" opacity="0.85"/>
<path d="M422.99 52.70 L424.24 93.40 L432.27 81.77 L447.15 70.79 L462.02 64.97 L476.90 61.10 L491.77 60.45 L506.65 57.87" fill="none" stroke="#1c1cc8" stroke-width="1.0"/>
<circle cx="422.99" cy="52.70" r="1.95" fill="#1c1cc8"/>
<circle cx="424.24" cy="93.40" r="1.95" fill="#1c1cc8"/>
<circle cx="432.27" cy="81.77" r="1.95" fill="#1c1cc8"/>
<circle cx="447.15" cy="70.79" r="1.95" fill="#1c1cc8"/>
<circle cx="462.02" cy="64.97" r="1.95" fill="#1c1cc8"/>
<circle cx="476.90" cy="61.10" r="1.95" fill="#1c1cc8"/>
<circle cx="491.77" cy="60.45" r="1.95" fill="#1c1cc8"/>
<circle cx="506.65" cy="57.87" r="1.95" fill="#1c1cc8"/>
<path d="M422.99 48.82V56.58M421.39 48.82h3.2M421.39 56.58h3.2" stroke="#c86a5a" stroke-width="0.7" fill="none" opacity="0.85"/>
<path d="M424.24 79.83V90.17M422.64 79.83h3.2M422.64 90.17h3.2" stroke="#c86a5a" stroke-width="0.7" fill="none" opacity="0.85"/>
<path d="M432.27 61.74V78.54M430.67 61.74h3.2M430.67 78.54h3.2" stroke="#c86a5a" stroke-width="0.7" fill="none" opacity="0.85"/>
<path d="M447.15 53.99V68.20M445.55 53.99h3.2M445.55 68.20h3.2" stroke="#c86a5a" stroke-width="0.7" fill="none" opacity="0.85"/>
<path d="M462.02 50.12V64.33M460.42 50.12h3.2M460.42 64.33h3.2" stroke="#c86a5a" stroke-width="0.7" fill="none" opacity="0.85"/>
<path d="M476.90 47.53V65.62M475.30 47.53h3.2M475.30 65.62h3.2" stroke="#c86a5a" stroke-width="0.7" fill="none" opacity="0.85"/>
<path d="M491.77 48.18V67.56M490.17 48.18h3.2M490.17 67.56h3.2" stroke="#c86a5a" stroke-width="0.7" fill="none" opacity="0.85"/>
<path d="M506.65 49.47V72.73M505.05 49.47h3.2M505.05 72.73h3.2" stroke="#c86a5a" stroke-width="0.7" fill="none" opacity="0.85"/>
<path d="M422.99 52.70 L424.24 85.00 L432.27 70.14 L447.15 61.10 L462.02 57.22 L476.90 56.58 L491.77 57.87 L506.65 61.10" fill="none" stroke="#9b1c1c" stroke-width="1.0"/>
<circle cx="422.99" cy="52.70" r="1.95" fill="#9b1c1c"/>
<circle cx="424.24" cy="85.00" r="1.95" fill="#9b1c1c"/>
<circle cx="432.27" cy="70.14" r="1.95" fill="#9b1c1c"/>
<circle cx="447.15" cy="61.10" r="1.95" fill="#9b1c1c"/>
<circle cx="462.02" cy="57.22" r="1.95" fill="#9b1c1c"/>
<circle cx="476.90" cy="56.58" r="1.95" fill="#9b1c1c"/>
<circle cx="491.77" cy="57.87" r="1.95" fill="#9b1c1c"/>
<circle cx="506.65" cy="61.10" r="1.95" fill="#9b1c1c"/>
<circle cx="422.99" cy="52.7" r="2.5" fill="#9b1c1c"/>
<circle cx="416.8" cy="152.2" r="2.2" fill="#9b1c1c"/>
<text x="422.4" y="155.0" font-size="7.6" fill="#111" stroke="#111" stroke-width="0.2">PML-RARA<tspan font-size="5.4" dy="-2.6">WT</tspan><tspan dy="2.6"></tspan></text>
<circle cx="416.8" cy="160.3" r="2.2" fill="#1c1cc8"/>
<text x="422.4" y="163.10000000000002" font-size="7.6" fill="#111" stroke="#111" stroke-width="0.2">PML-RARA<tspan font-size="5.4" dy="-2.6">C213V</tspan><tspan dy="2.6"></tspan></text>
<circle cx="416.8" cy="169.2" r="2.0" fill="#fff" stroke="#b8483c" stroke-width="0.8"/>
<text x="422.4" y="172.0" font-size="7.6" fill="#111" stroke="#111" stroke-width="0.2">PML-RARA<tspan font-size="5.4" dy="-2.6">WT</tspan><tspan dy="2.6"> + ATO</tspan></text>
<circle cx="416.8" cy="178.2" r="2.0" fill="#fff" stroke="#5a5ae6" stroke-width="0.8"/>
<text x="422.4" y="181.0" font-size="7.6" fill="#111" stroke="#111" stroke-width="0.2">PML-RARA<tspan font-size="5.4" dy="-2.6">C213V</tspan><tspan dy="2.6"> + ATO</tspan></text>
</g>
<g id="panelD">
<text x="236.60" y="215.80" font-size="9.9" text-anchor="start" font-weight="bold" fill="#000"  stroke="#000" stroke-width="0.12">D</text>
<path d="M263.40 210.00V288.30H361.50" fill="none" stroke="#3c3c3c" stroke-width="0.8"/>
<path d="M260.40 288.30H263.40" stroke="#3c3c3c" stroke-width="0.8"/>
<text x="260.00" y="291.00" font-size="7.5" text-anchor="end" font-weight="normal" fill="#111"  stroke="#111" stroke-width="0.2">0.0</text>
<path d="M260.40 275.08H263.40" stroke="#3c3c3c" stroke-width="0.8"/>
<text x="260.00" y="277.78" font-size="7.5" text-anchor="end" font-weight="normal" fill="#111"  stroke="#111" stroke-width="0.2">0.2</text>
<path d="M260.40 261.86H263.40" stroke="#3c3c3c" stroke-width="0.8"/>
<text x="260.00" y="264.56" font-size="7.5" text-anchor="end" font-weight="normal" fill="#111"  stroke="#111" stroke-width="0.2">0.4</text>
<path d="M260.40 248.64H263.40" stroke="#3c3c3c" stroke-width="0.8"/>
<text x="260.00" y="251.34" font-size="7.5" text-anchor="end" font-weight="normal" fill="#111"  stroke="#111" stroke-width="0.2">0.6</text>
<path d="M260.40 235.42H263.40" stroke="#3c3c3c" stroke-width="0.8"/>
<text x="260.00" y="238.12" font-size="7.5" text-anchor="end" font-weight="normal" fill="#111"  stroke="#111" stroke-width="0.2">0.8</text>
<path d="M260.40 222.20H263.40" stroke="#3c3c3c" stroke-width="0.8"/>
<text x="260.00" y="224.90" font-size="7.5" text-anchor="end" font-weight="normal" fill="#111"  stroke="#111" stroke-width="0.2">1.0</text>
<path d="M263.40 288.30v3" stroke="#3c3c3c" stroke-width="0.8"/>
<text x="263.40" y="301.60" font-size="7.5" text-anchor="middle" font-weight="normal" fill="#111"  stroke="#111" stroke-width="0.2">0</text>
<path d="M287.70 288.30v3" stroke="#3c3c3c" stroke-width="0.8"/>
<text x="287.70" y="301.60" font-size="7.5" text-anchor="middle" font-weight="normal" fill="#111"  stroke="#111" stroke-width="0.2">5</text>
<path d="M312.00 288.30v3" stroke="#3c3c3c" stroke-width="0.8"/>
<text x="312.00" y="301.60" font-size="7.5" text-anchor="middle" font-weight="normal" fill="#111"  stroke="#111" stroke-width="0.2">10</text>
<path d="M336.30 288.30v3" stroke="#3c3c3c" stroke-width="0.8"/>
<text x="336.30" y="301.60" font-size="7.5" text-anchor="middle" font-weight="normal" fill="#111"  stroke="#111" stroke-width="0.2">15</text>
<path d="M360.60 288.30v3" stroke="#3c3c3c" stroke-width="0.8"/>
<text x="360.60" y="301.60" font-size="7.5" text-anchor="middle" font-weight="normal" fill="#111"  stroke="#111" stroke-width="0.2">20</text>
<text x="312.00" y="311.70" font-size="7.5" text-anchor="middle" font-weight="normal" fill="#111"  stroke="#111" stroke-width="0.2">Time (min)</text>
<text x="242.40" y="250.15" font-size="7.5" text-anchor="middle" font-weight="normal" fill="#111" transform="rotate(-90 242.40 250.15)" stroke="#111" stroke-width="0.2">RFI</text>
<path d="M263.40 222.20H361.60" stroke="#111" stroke-width="0.8" stroke-dasharray="1.2 1.2"/>
<text x="311.80" y="214.90" font-size="7.5" text-anchor="middle" font-weight="bold" fill="#167a1e"  stroke="#167a1e" stroke-width="0.12">WT</text>
<path d="M267.77 220.22V224.18M266.17 220.22h3.2M266.17 224.18h3.2" stroke="#c86a5a" stroke-width="0.7" fill="none" opacity="0.85"/>
<path d="M268.84 274.42V282.35M267.24 274.42h3.2M267.24 282.35h3.2" stroke="#c86a5a" stroke-width="0.7" fill="none" opacity="0.85"/>
<path d="M275.55 269.79V276.40M273.95 269.79h3.2M273.95 276.40h3.2" stroke="#c86a5a" stroke-width="0.7" fill="none" opacity="0.85"/>
<path d="M287.70 263.18V272.44M286.10 263.18h3.2M286.10 272.44h3.2" stroke="#c86a5a" stroke-width="0.7" fill="none" opacity="0.85"/>
<path d="M299.85 259.22V269.79M298.25 259.22h3.2M298.25 269.79h3.2" stroke="#c86a5a" stroke-width="0.7" fill="none" opacity="0.85"/>
<path d="M312.00 256.57V267.15M310.40 256.57h3.2M310.40 267.15h3.2" stroke="#c86a5a" stroke-width="0.7" fill="none" opacity="0.85"/>
<path d="M324.15 254.59V266.49M322.55 254.59h3.2M322.55 266.49h3.2" stroke="#c86a5a" stroke-width="0.7" fill="none" opacity="0.85"/>
<path d="M336.30 252.61V264.50M334.70 252.61h3.2M334.70 264.50h3.2" stroke="#c86a5a" stroke-width="0.7" fill="none" opacity="0.85"/>
<path d="M348.45 251.28V263.18M346.85 251.28h3.2M346.85 263.18h3.2" stroke="#c86a5a" stroke-width="0.7" fill="none" opacity="0.85"/>
<path d="M360.60 250.62V262.52M359.00 250.62h3.2M359.00 262.52h3.2" stroke="#c86a5a" stroke-width="0.7" fill="none" opacity="0.85"/>
<path d="M267.77 222.20 L268.84 278.38 L275.55 273.10 L287.70 267.81 L299.85 264.50 L312.00 261.86 L324.15 260.54 L336.30 258.56 L348.45 257.23 L360.60 256.57" fill="none" stroke="#9b1c1c" stroke-width="1.0"/>
<circle cx="267.77" cy="222.20" r="1.95" fill="#9b1c1c"/>
<circle cx="268.84" cy="278.38" r="1.95" fill="#9b1c1c"/>
<circle cx="275.55" cy="273.10" r="1.95" fill="#9b1c1c"/>
<circle cx="287.70" cy="267.81" r="1.95" fill="#9b1c1c"/>
<circle cx="299.85" cy="264.50" r="1.95" fill="#9b1c1c"/>
<circle cx="312.00" cy="261.86" r="1.95" fill="#9b1c1c"/>
<circle cx="324.15" cy="260.54" r="1.95" fill="#9b1c1c"/>
<circle cx="336.30" cy="258.56" r="1.95" fill="#9b1c1c"/>
<circle cx="348.45" cy="257.23" r="1.95" fill="#9b1c1c"/>
<circle cx="360.60" cy="256.57" r="1.95" fill="#9b1c1c"/>
<path d="M267.77 220.22V224.18M266.17 220.22h3.2M266.17 224.18h3.2" stroke="#f2b678" stroke-width="0.7" fill="none" opacity="0.85"/>
<path d="M268.84 272.44V281.69M267.24 272.44h3.2M267.24 281.69h3.2" stroke="#f2b678" stroke-width="0.7" fill="none" opacity="0.85"/>
<path d="M275.55 253.27V266.49M273.95 253.27h3.2M273.95 266.49h3.2" stroke="#f2b678" stroke-width="0.7" fill="none" opacity="0.85"/>
<path d="M287.70 236.08V250.62M286.10 236.08h3.2M286.10 250.62h3.2" stroke="#f2b678" stroke-width="0.7" fill="none" opacity="0.85"/>
<path d="M299.85 230.79V244.01M298.25 230.79h3.2M298.25 244.01h3.2" stroke="#f2b678" stroke-width="0.7" fill="none" opacity="0.85"/>
<path d="M312.00 228.15V241.37M310.40 228.15h3.2M310.40 241.37h3.2" stroke="#f2b678" stroke-width="0.7" fill="none" opacity="0.85"/>
<path d="M324.15 225.50V238.72M322.55 225.50h3.2M322.55 238.72h3.2" stroke="#f2b678" stroke-width="0.7" fill="none" opacity="0.85"/>
<path d="M336.30 226.83V238.72M334.70 226.83h3.2M334.70 238.72h3.2" stroke="#f2b678" stroke-width="0.7" fill="none" opacity="0.85"/>
<path d="M348.45 226.17V238.06M346.85 226.17h3.2M346.85 238.06h3.2" stroke="#f2b678" stroke-width="0.7" fill="none" opacity="0.85"/>
<path d="M360.60 226.17V238.06M359.00 226.17h3.2M359.00 238.06h3.2" stroke="#f2b678" stroke-width="0.7" fill="none" opacity="0.85"/>
<path d="M267.77 222.20 L268.84 277.06 L275.55 259.88 L287.70 243.35 L299.85 237.40 L312.00 234.76 L324.15 232.12 L336.30 232.78 L348.45 232.12 L360.60 232.12" fill="none" stroke="#f5a04a" stroke-width="1.0"/>
<circle cx="267.77" cy="222.20" r="1.95" fill="#f5a04a"/>
<circle cx="268.84" cy="277.06" r="1.95" fill="#f5a04a"/>
<circle cx="275.55" cy="259.88" r="1.95" fill="#f5a04a"/>
<circle cx="287.70" cy="243.35" r="1.95" fill="#f5a04a"/>
<circle cx="299.85" cy="237.40" r="1.95" fill="#f5a04a"/>
<circle cx="312.00" cy="234.76" r="1.95" fill="#f5a04a"/>
<circle cx="324.15" cy="232.12" r="1.95" fill="#f5a04a"/>
<circle cx="336.30" cy="232.78" r="1.95" fill="#f5a04a"/>
<circle cx="348.45" cy="232.12" r="1.95" fill="#f5a04a"/>
<circle cx="360.60" cy="232.12" r="1.95" fill="#f5a04a"/>
<path d="M267.77 220.22V224.18M266.17 220.22h3.2M266.17 224.18h3.2" stroke="#5aa860" stroke-width="0.7" fill="none" opacity="0.85"/>
<path d="M268.84 271.77V285.00M267.24 271.77h3.2M267.24 285.00h3.2" stroke="#5aa860" stroke-width="0.7" fill="none" opacity="0.85"/>
<path d="M275.55 263.18V273.76M273.95 263.18h3.2M273.95 273.76h3.2" stroke="#5aa860" stroke-width="0.7" fill="none" opacity="0.85"/>
<path d="M287.70 249.96V261.86M286.10 249.96h3.2M286.10 261.86h3.2" stroke="#5aa860" stroke-width="0.7" fill="none" opacity="0.85"/>
<path d="M299.85 243.35V256.57M298.25 243.35h3.2M298.25 256.57h3.2" stroke="#5aa860" stroke-width="0.7" fill="none" opacity="0.85"/>
<path d="M312.00 240.05V253.27M310.40 240.05h3.2M310.40 253.27h3.2" stroke="#5aa860" stroke-width="0.7" fill="none" opacity="0.85"/>
<path d="M324.15 238.06V251.28M322.55 238.06h3.2M322.55 251.28h3.2" stroke="#5aa860" stroke-width="0.7" fill="none" opacity="0.85"/>
<path d="M336.30 236.74V249.96M334.70 236.74h3.2M334.70 249.96h3.2" stroke="#5aa860" stroke-width="0.7" fill="none" opacity="0.85"/>
<path d="M348.45 236.08V249.30M346.85 236.08h3.2M346.85 249.30h3.2" stroke="#5aa860" stroke-width="0.7" fill="none" opacity="0.85"/>
<path d="M360.60 235.42V248.64M359.00 235.42h3.2M359.00 248.64h3.2" stroke="#5aa860" stroke-width="0.7" fill="none" opacity="0.85"/>
<path d="M267.77 222.20 L268.84 278.38 L275.55 268.47 L287.70 255.91 L299.85 249.96 L312.00 246.66 L324.15 244.67 L336.30 243.35 L348.45 242.69 L360.60 242.03" fill="none" stroke="#178a22" stroke-width="1.0"/>
<circle cx="267.77" cy="222.20" r="1.95" fill="#178a22"/>
<circle cx="268.84" cy="278.38" r="1.95" fill="#178a22"/>
<circle cx="275.55" cy="268.47" r="1.95" fill="#178a22"/>
<circle cx="287.70" cy="255.91" r="1.95" fill="#178a22"/>
<circle cx="299.85" cy="249.96" r="1.95" fill="#178a22"/>
<circle cx="312.00" cy="246.66" r="1.95" fill="#178a22"/>
<circle cx="324.15" cy="244.67" r="1.95" fill="#178a22"/>
<circle cx="336.30" cy="243.35" r="1.95" fill="#178a22"/>
<circle cx="348.45" cy="242.69" r="1.95" fill="#178a22"/>
<circle cx="360.60" cy="242.03" r="1.95" fill="#178a22"/>
<circle cx="266" cy="318.0" r="2.2" fill="#178a22"/>
<text x="271.7" y="320.7" font-size="7.6" fill="#111" stroke="#111" stroke-width="0.2">Ctrl</text>
<circle cx="266" cy="326.2" r="2.2" fill="#f5a04a"/>
<text x="271.7" y="328.9" font-size="7.6" fill="#111" stroke="#111" stroke-width="0.2">H<tspan font-size="4.8" dy="1.6">2</tspan><tspan dy="-1.6">O</tspan><tspan font-size="4.8" dy="1.6">2</tspan><tspan dy="-1.6"> 100 μmol/L</tspan></text>
<circle cx="266" cy="334.5" r="2.2" fill="#9b1c1c"/>
<text x="271.7" y="337.2" font-size="7.6" fill="#111" stroke="#111" stroke-width="0.2">H<tspan font-size="4.8" dy="1.6">2</tspan><tspan dy="-1.6">O</tspan><tspan font-size="4.8" dy="1.6">2</tspan><tspan dy="-1.6"> 500 μmol/L</tspan></text>
</g>
<g id="panelE">
<text x="382.00" y="215.80" font-size="10.3" text-anchor="start" font-weight="bold" fill="#000"  stroke="#000" stroke-width="0.12">E</text>
<path d="M409.80 210.00V288.30H509.00" fill="none" stroke="#3c3c3c" stroke-width="0.8"/>
<path d="M406.80 288.30H409.80" stroke="#3c3c3c" stroke-width="0.8"/>
<text x="406.40" y="291.00" font-size="7.5" text-anchor="end" font-weight="normal" fill="#111"  stroke="#111" stroke-width="0.2">0.0</text>
<path d="M406.80 275.08H409.80" stroke="#3c3c3c" stroke-width="0.8"/>
<text x="406.40" y="277.78" font-size="7.5" text-anchor="end" font-weight="normal" fill="#111"  stroke="#111" stroke-width="0.2">0.2</text>
<path d="M406.80 261.86H409.80" stroke="#3c3c3c" stroke-width="0.8"/>
<text x="406.40" y="264.56" font-size="7.5" text-anchor="end" font-weight="normal" fill="#111"  stroke="#111" stroke-width="0.2">0.4</text>
<path d="M406.80 248.64H409.80" stroke="#3c3c3c" stroke-width="0.8"/>
<text x="406.40" y="251.34" font-size="7.5" text-anchor="end" font-weight="normal" fill="#111"  stroke="#111" stroke-width="0.2">0.6</text>
<path d="M406.80 235.42H409.80" stroke="#3c3c3c" stroke-width="0.8"/>
<text x="406.40" y="238.12" font-size="7.5" text-anchor="end" font-weight="normal" fill="#111"  stroke="#111" stroke-width="0.2">0.8</text>
<path d="M406.80 222.20H409.80" stroke="#3c3c3c" stroke-width="0.8"/>
<text x="406.40" y="224.90" font-size="7.5" text-anchor="end" font-weight="normal" fill="#111"  stroke="#111" stroke-width="0.2">1.0</text>
<path d="M409.80 288.30v3" stroke="#3c3c3c" stroke-width="0.8"/>
<text x="409.80" y="301.60" font-size="7.5" text-anchor="middle" font-weight="normal" fill="#111"  stroke="#111" stroke-width="0.2">0</text>
<path d="M434.30 288.30v3" stroke="#3c3c3c" stroke-width="0.8"/>
<text x="434.30" y="301.60" font-size="7.5" text-anchor="middle" font-weight="normal" fill="#111"  stroke="#111" stroke-width="0.2">5</text>
<path d="M458.80 288.30v3" stroke="#3c3c3c" stroke-width="0.8"/>
<text x="458.80" y="301.60" font-size="7.5" text-anchor="middle" font-weight="normal" fill="#111"  stroke="#111" stroke-width="0.2">10</text>
<path d="M483.30 288.30v3" stroke="#3c3c3c" stroke-width="0.8"/>
<text x="483.30" y="301.60" font-size="7.5" text-anchor="middle" font-weight="normal" fill="#111"  stroke="#111" stroke-width="0.2">15</text>
<path d="M507.80 288.30v3" stroke="#3c3c3c" stroke-width="0.8"/>
<text x="507.80" y="301.60" font-size="7.5" text-anchor="middle" font-weight="normal" fill="#111"  stroke="#111" stroke-width="0.2">20</text>
<text x="458.80" y="311.70" font-size="7.5" text-anchor="middle" font-weight="normal" fill="#111"  stroke="#111" stroke-width="0.2">Time (min)</text>
<text x="388.80" y="250.15" font-size="7.5" text-anchor="middle" font-weight="normal" fill="#111" transform="rotate(-90 388.80 250.15)" stroke="#111" stroke-width="0.2">RFI</text>
<path d="M409.80 222.20H508.80" stroke="#111" stroke-width="0.8" stroke-dasharray="1.2 1.2"/>
<text x="458.00" y="214.90" font-size="7.5" text-anchor="middle" font-weight="bold" fill="#1a1aa8"  stroke="#1a1aa8" stroke-width="0.12">C213V</text>
<path d="M414.21 220.22V224.18M412.61 220.22h3.2M412.61 224.18h3.2" stroke="#f2b678" stroke-width="0.7" fill="none" opacity="0.85"/>
<path d="M415.29 269.79V277.72M413.69 269.79h3.2M413.69 277.72h3.2" stroke="#f2b678" stroke-width="0.7" fill="none" opacity="0.85"/>
<path d="M422.05 257.23V269.13M420.45 257.23h3.2M420.45 269.13h3.2" stroke="#f2b678" stroke-width="0.7" fill="none" opacity="0.85"/>
<path d="M434.30 244.67V259.22M432.70 244.67h3.2M432.70 259.22h3.2" stroke="#f2b678" stroke-width="0.7" fill="none" opacity="0.85"/>
<path d="M446.55 238.06V252.61M444.95 238.06h3.2M444.95 252.61h3.2" stroke="#f2b678" stroke-width="0.7" fill="none" opacity="0.85"/>
<path d="M458.80 234.76V249.30M457.20 234.76h3.2M457.20 249.30h3.2" stroke="#f2b678" stroke-width="0.7" fill="none" opacity="0.85"/>
<path d="M471.05 233.44V247.98M469.45 233.44h3.2M469.45 247.98h3.2" stroke="#f2b678" stroke-width="0.7" fill="none" opacity="0.85"/>
<path d="M483.30 232.78V247.32M481.70 232.78h3.2M481.70 247.32h3.2" stroke="#f2b678" stroke-width="0.7" fill="none" opacity="0.85"/>
<path d="M495.55 232.78V247.32M493.95 232.78h3.2M493.95 247.32h3.2" stroke="#f2b678" stroke-width="0.7" fill="none" opacity="0.85"/>
<path d="M507.80 232.78V247.32M506.20 232.78h3.2M506.20 247.32h3.2" stroke="#f2b678" stroke-width="0.7" fill="none" opacity="0.85"/>
<path d="M414.21 222.20 L415.29 273.76 L422.05 263.18 L434.30 251.94 L446.55 245.33 L458.80 242.03 L471.05 240.71 L483.30 240.05 L495.55 240.05 L507.80 240.05" fill="none" stroke="#f5a04a" stroke-width="1.0"/>
<circle cx="414.21" cy="222.20" r="1.95" fill="#f5a04a"/>
<circle cx="415.29" cy="273.76" r="1.95" fill="#f5a04a"/>
<circle cx="422.05" cy="263.18" r="1.95" fill="#f5a04a"/>
<circle cx="434.30" cy="251.94" r="1.95" fill="#f5a04a"/>
<circle cx="446.55" cy="245.33" r="1.95" fill="#f5a04a"/>
<circle cx="458.80" cy="242.03" r="1.95" fill="#f5a04a"/>
<circle cx="471.05" cy="240.71" r="1.95" fill="#f5a04a"/>
<circle cx="483.30" cy="240.05" r="1.95" fill="#f5a04a"/>
<circle cx="495.55" cy="240.05" r="1.95" fill="#f5a04a"/>
<circle cx="507.80" cy="240.05" r="1.95" fill="#f5a04a"/>
<path d="M414.21 220.22V224.18M412.61 220.22h3.2M412.61 224.18h3.2" stroke="#6a6ad8" stroke-width="0.7" fill="none" opacity="0.85"/>
<path d="M415.29 273.76V283.01M413.69 273.76h3.2M413.69 283.01h3.2" stroke="#6a6ad8" stroke-width="0.7" fill="none" opacity="0.85"/>
<path d="M422.05 262.52V273.10M420.45 262.52h3.2M420.45 273.10h3.2" stroke="#6a6ad8" stroke-width="0.7" fill="none" opacity="0.85"/>
<path d="M434.30 247.98V259.88M432.70 247.98h3.2M432.70 259.88h3.2" stroke="#6a6ad8" stroke-width="0.7" fill="none" opacity="0.85"/>
<path d="M446.55 239.39V252.61M444.95 239.39h3.2M444.95 252.61h3.2" stroke="#6a6ad8" stroke-width="0.7" fill="none" opacity="0.85"/>
<path d="M458.80 235.42V248.64M457.20 235.42h3.2M457.20 248.64h3.2" stroke="#6a6ad8" stroke-width="0.7" fill="none" opacity="0.85"/>
<path d="M471.05 233.44V246.66M469.45 233.44h3.2M469.45 246.66h3.2" stroke="#6a6ad8" stroke-width="0.7" fill="none" opacity="0.85"/>
<path d="M483.30 232.12V245.33M481.70 232.12h3.2M481.70 245.33h3.2" stroke="#6a6ad8" stroke-width="0.7" fill="none" opacity="0.85"/>
<path d="M495.55 231.45V244.67M493.95 231.45h3.2M493.95 244.67h3.2" stroke="#6a6ad8" stroke-width="0.7" fill="none" opacity="0.85"/>
<path d="M507.80 231.45V244.67M506.20 231.45h3.2M506.20 244.67h3.2" stroke="#6a6ad8" stroke-width="0.7" fill="none" opacity="0.85"/>
<path d="M414.21 222.20 L415.29 278.38 L422.05 267.81 L434.30 253.93 L446.55 246.00 L458.80 242.03 L471.05 240.05 L483.30 238.72 L495.55 238.06 L507.80 238.06" fill="none" stroke="#1c1cc8" stroke-width="1.0"/>
<circle cx="414.21" cy="222.20" r="1.95" fill="#1c1cc8"/>
<circle cx="415.29" cy="278.38" r="1.95" fill="#1c1cc8"/>
<circle cx="422.05" cy="267.81" r="1.95" fill="#1c1cc8"/>
<circle cx="434.30" cy="253.93" r="1.95" fill="#1c1cc8"/>
<circle cx="446.55" cy="246.00" r="1.95" fill="#1c1cc8"/>
<circle cx="458.80" cy="242.03" r="1.95" fill="#1c1cc8"/>
<circle cx="471.05" cy="240.05" r="1.95" fill="#1c1cc8"/>
<circle cx="483.30" cy="238.72" r="1.95" fill="#1c1cc8"/>
<circle cx="495.55" cy="238.06" r="1.95" fill="#1c1cc8"/>
<circle cx="507.80" cy="238.06" r="1.95" fill="#1c1cc8"/>
<path d="M414.21 218.89V225.50M412.61 218.89h3.2M412.61 225.50h3.2" stroke="#c86a5a" stroke-width="0.7" fill="none" opacity="0.85"/>
<path d="M415.29 268.47V277.72M413.69 268.47h3.2M413.69 277.72h3.2" stroke="#c86a5a" stroke-width="0.7" fill="none" opacity="0.85"/>
<path d="M422.05 255.91V270.45M420.45 255.91h3.2M420.45 270.45h3.2" stroke="#c86a5a" stroke-width="0.7" fill="none" opacity="0.85"/>
<path d="M434.30 242.69V259.88M432.70 242.69h3.2M432.70 259.88h3.2" stroke="#c86a5a" stroke-width="0.7" fill="none" opacity="0.85"/>
<path d="M446.55 235.42V253.93M444.95 235.42h3.2M444.95 253.93h3.2" stroke="#c86a5a" stroke-width="0.7" fill="none" opacity="0.85"/>
<path d="M458.80 232.12V250.62M457.20 232.12h3.2M457.20 250.62h3.2" stroke="#c86a5a" stroke-width="0.7" fill="none" opacity="0.85"/>
<path d="M471.05 229.47V249.30M469.45 229.47h3.2M469.45 249.30h3.2" stroke="#c86a5a" stroke-width="0.7" fill="none" opacity="0.85"/>
<path d="M483.30 228.81V248.64M481.70 228.81h3.2M481.70 248.64h3.2" stroke="#c86a5a" stroke-width="0.7" fill="none" opacity="0.85"/>
<path d="M495.55 228.15V247.98M493.95 228.15h3.2M493.95 247.98h3.2" stroke="#c86a5a" stroke-width="0.7" fill="none" opacity="0.85"/>
<path d="M507.80 227.49V247.32M506.20 227.49h3.2M506.20 247.32h3.2" stroke="#c86a5a" stroke-width="0.7" fill="none" opacity="0.85"/>
<path d="M414.21 222.20 L415.29 273.10 L422.05 263.18 L434.30 251.28 L446.55 244.67 L458.80 241.37 L471.05 239.39 L483.30 238.72 L495.55 238.06 L507.80 237.40" fill="none" stroke="#9b1c1c" stroke-width="1.0"/>
<circle cx="414.21" cy="222.20" r="1.95" fill="#9b1c1c"/>
<circle cx="415.29" cy="273.10" r="1.95" fill="#9b1c1c"/>
<circle cx="422.05" cy="263.18" r="1.95" fill="#9b1c1c"/>
<circle cx="434.30" cy="251.28" r="1.95" fill="#9b1c1c"/>
<circle cx="446.55" cy="244.67" r="1.95" fill="#9b1c1c"/>
<circle cx="458.80" cy="241.37" r="1.95" fill="#9b1c1c"/>
<circle cx="471.05" cy="239.39" r="1.95" fill="#9b1c1c"/>
<circle cx="483.30" cy="238.72" r="1.95" fill="#9b1c1c"/>
<circle cx="495.55" cy="238.06" r="1.95" fill="#9b1c1c"/>
<circle cx="507.80" cy="237.40" r="1.95" fill="#9b1c1c"/>
<circle cx="406" cy="317.6" r="2.2" fill="#1c1cc8"/>
<text x="411.8" y="320.3" font-size="7.6" fill="#111" stroke="#111" stroke-width="0.2">Ctrl</text>
<circle cx="406" cy="326.2" r="2.2" fill="#f5a04a"/>
<text x="411.8" y="328.9" font-size="7.6" fill="#111" stroke="#111" stroke-width="0.2">H<tspan font-size="4.8" dy="1.6">2</tspan><tspan dy="-1.6">O</tspan><tspan font-size="4.8" dy="1.6">2</tspan><tspan dy="-1.6"> 100 μmol/L</tspan></text>
<circle cx="406" cy="334.8" r="2.2" fill="#9b1c1c"/>
<text x="411.8" y="337.5" font-size="7.6" fill="#111" stroke="#111" stroke-width="0.2">H<tspan font-size="4.8" dy="1.6">2</tspan><tspan dy="-1.6">O</tspan><tspan font-size="4.8" dy="1.6">2</tspan><tspan dy="-1.6"> 500 μmol/L</tspan></text>
</g>
<g id="panelF">
<text x="0.70" y="355.60" font-size="9.9" text-anchor="start" font-weight="bold" fill="#000"  stroke="#000" stroke-width="0.12">F</text>
<path d="M39.6 363.30V446.2H94.2" fill="none" stroke="#222" stroke-width="0.7"/>
<path d="M35.800000000000004 446.20H39.6" stroke="#222" stroke-width="0.7"/>
<text x="32.90" y="448.80" font-size="7.2" text-anchor="end" font-weight="normal" fill="#111" stroke="#111" stroke-width="0.15">0</text>
<path d="M35.800000000000004 429.62H39.6" stroke="#222" stroke-width="0.7"/>
<text x="32.90" y="432.22" font-size="7.2" text-anchor="end" font-weight="normal" fill="#111" stroke="#111" stroke-width="0.15">2</text>
<path d="M35.800000000000004 413.04H39.6" stroke="#222" stroke-width="0.7"/>
<text x="32.90" y="415.64" font-size="7.2" text-anchor="end" font-weight="normal" fill="#111" stroke="#111" stroke-width="0.15">4</text>
<path d="M35.800000000000004 396.46H39.6" stroke="#222" stroke-width="0.7"/>
<text x="32.90" y="399.06" font-size="7.2" text-anchor="end" font-weight="normal" fill="#111" stroke="#111" stroke-width="0.15">6</text>
<path d="M35.800000000000004 379.88H39.6" stroke="#222" stroke-width="0.7"/>
<text x="32.90" y="382.48" font-size="7.2" text-anchor="end" font-weight="normal" fill="#111" stroke="#111" stroke-width="0.15">8</text>
<path d="M35.800000000000004 363.30H39.6" stroke="#222" stroke-width="0.7"/>
<text x="32.90" y="365.90" font-size="7.2" text-anchor="end" font-weight="normal" fill="#111" stroke="#111" stroke-width="0.15">10</text>
<rect x="46.50" y="437.91" width="10.2" height="8.29" fill="#fff" stroke="#222" stroke-width="0.7"/>
<path d="M51.6 437.91V413.04M48.7 413.04h5.8" stroke="#222" stroke-width="0.7" fill="none"/>
<path d="M51.6 446.2v3" stroke="#222" stroke-width="0.7"/>
<rect x="62.80" y="404.75" width="10.2" height="41.45" fill="#fff" stroke="#222" stroke-width="0.7"/>
<path d="M67.9 404.75V379.88M65.0 379.88h5.8" stroke="#222" stroke-width="0.7" fill="none"/>
<path d="M67.9 446.2v3" stroke="#222" stroke-width="0.7"/>
<rect x="78.70" y="404.75" width="10.2" height="41.45" fill="#fff" stroke="#222" stroke-width="0.7"/>
<path d="M83.8 404.75V388.17M80.89999999999999 388.17h5.8" stroke="#222" stroke-width="0.7" fill="none"/>
<path d="M83.8 446.2v3" stroke="#222" stroke-width="0.7"/>
<path d="M51.4 368.9H82.6" stroke="#505050" stroke-width="1.2"/>
<path d="M51.4 375.7H67.4" stroke="#505050" stroke-width="1.2"/>
<text x="67.80" y="369.90" font-size="7.4" text-anchor="middle" font-weight="normal" fill="#111" letter-spacing="0.3" stroke="#111" stroke-width="0.2">***</text>
<text x="60.00" y="376.70" font-size="7.4" text-anchor="middle" font-weight="normal" fill="#111" letter-spacing="0.3" stroke="#111" stroke-width="0.2">***</text>
<text x="54.40" y="455.80" font-size="7.7" text-anchor="end" font-weight="normal" fill="#111" transform="rotate(-45 54.4 455.8)" stroke="#111" stroke-width="0.2">WT</text>
<text x="70.70" y="455.80" font-size="7.7" text-anchor="end" font-weight="normal" fill="#111" transform="rotate(-45 70.7 455.8)" stroke="#111" stroke-width="0.2">KO</text>
<text x="86.60" y="455.80" font-size="7.7" text-anchor="end" font-weight="normal" fill="#111" transform="rotate(-45 86.6 455.8)" stroke="#111" stroke-width="0.2">A220V</text>
<text x="20.40" y="405.60" font-size="7.5" text-anchor="middle" font-weight="normal" fill="#111" transform="rotate(-90 20.4 405.6)" stroke="#111" stroke-width="0.2">γH2AX dots/cell</text>
</g>
<g id="panelG">
<text x="105.60" y="355.50" font-size="9.9" text-anchor="start" font-weight="bold" fill="#000"  stroke="#000" stroke-width="0.12">G</text>
<text x="202.20" y="367.75" font-size="6.05" text-anchor="end" font-weight="normal" fill="#1a1a1a"  stroke="#1a1a1a" stroke-width="0.08">ADIPOGENESIS</text>
<text x="202.20" y="373.75" font-size="6.05" text-anchor="end" font-weight="normal" fill="#1a1a1a"  stroke="#1a1a1a" stroke-width="0.08">ANDROGEN RESPONSE</text>
<text x="202.20" y="379.75" font-size="6.05" text-anchor="end" font-weight="normal" fill="#1a1a1a"  stroke="#1a1a1a" stroke-width="0.08">DNA REPAIR</text>
<text x="202.20" y="385.75" font-size="6.05" text-anchor="end" font-weight="normal" fill="#1a1a1a"  stroke="#1a1a1a" stroke-width="0.08">E2F TARGET</text>
<text x="202.20" y="391.75" font-size="6.05" text-anchor="end" font-weight="normal" fill="#1a1a1a"  stroke="#1a1a1a" stroke-width="0.08">FATTY ACID METABOLISM</text>
<text x="202.20" y="397.75" font-size="6.05" text-anchor="end" font-weight="normal" fill="#1a1a1a"  stroke="#1a1a1a" stroke-width="0.08">G2M CHECKPOINT</text>
<text x="202.20" y="403.75" font-size="6.05" text-anchor="end" font-weight="normal" fill="#1a1a1a"  stroke="#1a1a1a" stroke-width="0.08">KRAS SIGNALING DN</text>
<text x="202.20" y="409.75" font-size="6.05" text-anchor="end" font-weight="normal" fill="#1a1a1a"  stroke="#1a1a1a" stroke-width="0.08">MYC TARGETS V1</text>
<text x="202.20" y="415.75" font-size="6.05" text-anchor="end" font-weight="normal" fill="#1a1a1a"  stroke="#1a1a1a" stroke-width="0.08">MYC TARGETS V2</text>
<text x="202.20" y="421.75" font-size="6.05" text-anchor="end" font-weight="normal" fill="#1a1a1a"  stroke="#1a1a1a" stroke-width="0.08">MYOGENESIS</text>
<text x="202.20" y="427.75" font-size="6.05" text-anchor="end" font-weight="normal" fill="#1a1a1a"  stroke="#1a1a1a" stroke-width="0.08">OX. PHOSPHORYLATION</text>
<text x="202.20" y="433.75" font-size="6.05" text-anchor="end" font-weight="normal" fill="#1a1a1a"  stroke="#1a1a1a" stroke-width="0.08">PEROXYSOME</text>
<text x="202.20" y="439.75" font-size="6.05" text-anchor="end" font-weight="normal" fill="#1a1a1a"  stroke="#1a1a1a" stroke-width="0.08">PROTEIN SECRETION</text>
<text x="202.20" y="445.75" font-size="6.05" text-anchor="end" font-weight="normal" fill="#1a1a1a"  stroke="#1a1a1a" stroke-width="0.08">UNFOLDED PROTEIN RESPONSE</text>
<text x="202.20" y="451.75" font-size="6.05" text-anchor="end" font-weight="normal" fill="#1a1a1a"  stroke="#1a1a1a" stroke-width="0.08">XENOBIOTIC METABOLISM</text>
<rect x="203.4" y="361.9" width="63.80" height="91.10" fill="#f0f0f0"/>
<path d="M235.5 361.9V453" stroke="#b4b4b4" stroke-width="0.8"/>
<circle cx="248.90" cy="365.60" r="2.25" fill="#f4962c"/>
<circle cx="249.85" cy="371.60" r="2.25" fill="#f4962c"/>
<circle cx="255.60" cy="377.60" r="2.25" fill="#e42a20"/>
<circle cx="256.55" cy="383.60" r="2.25" fill="#e42a20"/>
<circle cx="255.12" cy="389.60" r="2.25" fill="#e42a20"/>
<circle cx="252.73" cy="395.60" r="2.25" fill="#e42a20"/>
<circle cx="219.23" cy="401.60" r="2.25" fill="#e42a20"/>
<circle cx="262.77" cy="407.60" r="2.25" fill="#e42a20"/>
<circle cx="256.55" cy="413.60" r="2.25" fill="#e42a20"/>
<circle cx="218.27" cy="419.60" r="2.25" fill="#e42a20"/>
<circle cx="259.90" cy="425.60" r="2.25" fill="#e42a20"/>
<circle cx="250.81" cy="431.60" r="2.25" fill="#e42a20"/>
<circle cx="249.85" cy="437.60" r="2.25" fill="#f4962c"/>
<circle cx="255.12" cy="443.60" r="2.25" fill="#e42a20"/>
<circle cx="251.77" cy="449.60" r="2.25" fill="#e42a20"/>
<text x="232.40" y="359.80" font-size="7.5" text-anchor="middle" font-weight="normal" fill="#111"  stroke="#111" stroke-width="0.2">Ctrl (A220V vs. WT)</text>
<text x="205.69" y="463.30" font-size="8.0" text-anchor="middle" font-weight="normal" fill="#111"  stroke="#111" stroke-width="0.2">−3</text>
<text x="215.26" y="463.30" font-size="8.0" text-anchor="middle" font-weight="normal" fill="#111"  stroke="#111" stroke-width="0.2">−2</text>
<text x="224.83" y="463.30" font-size="8.0" text-anchor="middle" font-weight="normal" fill="#111"  stroke="#111" stroke-width="0.2">−1</text>
<text x="235.50" y="463.30" font-size="8.0" text-anchor="middle" font-weight="normal" fill="#111"  stroke="#111" stroke-width="0.2">0</text>
<text x="245.07" y="463.30" font-size="8.0" text-anchor="middle" font-weight="normal" fill="#111"  stroke="#111" stroke-width="0.2">1</text>
<text x="254.64" y="463.30" font-size="8.0" text-anchor="middle" font-weight="normal" fill="#111"  stroke="#111" stroke-width="0.2">2</text>
<text x="264.21" y="463.30" font-size="8.0" text-anchor="middle" font-weight="normal" fill="#111"  stroke="#111" stroke-width="0.2">3</text>
</g>
<g id="panelH">
<text x="281.80" y="355.50" font-size="9.9" text-anchor="start" font-weight="bold" fill="#000"  stroke="#000" stroke-width="0.12">H</text>
<text x="378.80" y="369.25" font-size="6.05" text-anchor="end" font-weight="normal" fill="#1a1a1a"  stroke="#1a1a1a" stroke-width="0.08">ALLOGRAFT REJECTION</text>
<text x="378.80" y="375.07" font-size="6.05" text-anchor="end" font-weight="normal" fill="#1a1a1a"  stroke="#1a1a1a" stroke-width="0.08">ANDROGEN RESPONSE</text>
<text x="378.80" y="380.89" font-size="6.05" text-anchor="end" font-weight="normal" fill="#1a1a1a"  stroke="#1a1a1a" stroke-width="0.08">ANGIOGENESIS</text>
<text x="378.80" y="386.71" font-size="6.05" text-anchor="end" font-weight="normal" fill="#1a1a1a"  stroke="#1a1a1a" stroke-width="0.08">APICAL JUNCTION</text>
<text x="378.80" y="392.53" font-size="6.05" text-anchor="end" font-weight="normal" fill="#1a1a1a"  stroke="#1a1a1a" stroke-width="0.08">APOPTOSIS</text>
<text x="378.80" y="398.35" font-size="6.05" text-anchor="end" font-weight="normal" fill="#1a1a1a"  stroke="#1a1a1a" stroke-width="0.08">COAGULATION</text>
<text x="378.80" y="404.17" font-size="6.05" text-anchor="end" font-weight="normal" fill="#1a1a1a"  stroke="#1a1a1a" stroke-width="0.08">COMPLEMENT</text>
<text x="378.80" y="409.99" font-size="6.05" text-anchor="end" font-weight="normal" fill="#1a1a1a"  stroke="#1a1a1a" stroke-width="0.08">DNA REPAIR</text>
<text x="378.80" y="415.81" font-size="6.05" text-anchor="end" font-weight="normal" fill="#1a1a1a"  stroke="#1a1a1a" stroke-width="0.08">E2F TARGET</text>
<text x="378.80" y="421.63" font-size="6.05" text-anchor="end" font-weight="normal" fill="#1a1a1a"  stroke="#1a1a1a" stroke-width="0.08">MESENCHYMAL TRANSITION</text>
<text x="378.80" y="427.45" font-size="6.05" text-anchor="end" font-weight="normal" fill="#1a1a1a"  stroke="#1a1a1a" stroke-width="0.08">EARLY ESTROGEN RESPONSE</text>
<text x="378.80" y="433.27" font-size="6.05" text-anchor="end" font-weight="normal" fill="#1a1a1a"  stroke="#1a1a1a" stroke-width="0.08">LATE ESTROGEN RESPONSE</text>
<text x="378.80" y="439.09" font-size="6.05" text-anchor="end" font-weight="normal" fill="#1a1a1a"  stroke="#1a1a1a" stroke-width="0.08">FATTY ACID METABOLISM</text>
<text x="378.80" y="444.91" font-size="6.05" text-anchor="end" font-weight="normal" fill="#1a1a1a"  stroke="#1a1a1a" stroke-width="0.08">G2M CHECKPOINT</text>
<text x="378.80" y="450.73" font-size="6.05" text-anchor="end" font-weight="normal" fill="#1a1a1a"  stroke="#1a1a1a" stroke-width="0.08">HEDGEHOG SIGNALING</text>
<text x="378.80" y="456.55" font-size="6.05" text-anchor="end" font-weight="normal" fill="#1a1a1a"  stroke="#1a1a1a" stroke-width="0.08">HEME METABOLISM</text>
<text x="378.80" y="462.37" font-size="6.05" text-anchor="end" font-weight="normal" fill="#1a1a1a"  stroke="#1a1a1a" stroke-width="0.08">HYPOXIA</text>
<text x="378.80" y="468.19" font-size="6.05" text-anchor="end" font-weight="normal" fill="#1a1a1a"  stroke="#1a1a1a" stroke-width="0.08">IL2 STAT5 SIGNALING</text>
<text x="378.80" y="474.01" font-size="6.05" text-anchor="end" font-weight="normal" fill="#1a1a1a"  stroke="#1a1a1a" stroke-width="0.08">IL6 JAK STAT3 SIGNALING</text>
<text x="378.80" y="479.83" font-size="6.05" text-anchor="end" font-weight="normal" fill="#1a1a1a"  stroke="#1a1a1a" stroke-width="0.08">INFLAMMATORY RESPONSE</text>
<text x="378.80" y="485.65" font-size="6.05" text-anchor="end" font-weight="normal" fill="#1a1a1a"  stroke="#1a1a1a" stroke-width="0.08">IFN ALPHA RESPONSE</text>
<text x="378.80" y="491.47" font-size="6.05" text-anchor="end" font-weight="normal" fill="#1a1a1a"  stroke="#1a1a1a" stroke-width="0.08">IFN GAMMA RESPONSE</text>
<text x="378.80" y="497.29" font-size="6.05" text-anchor="end" font-weight="normal" fill="#1a1a1a"  stroke="#1a1a1a" stroke-width="0.08">KRAS SIGNALING DN</text>
<text x="378.80" y="503.11" font-size="6.05" text-anchor="end" font-weight="normal" fill="#1a1a1a"  stroke="#1a1a1a" stroke-width="0.08">KRAS SIGNALING UP</text>
<text x="378.80" y="508.93" font-size="6.05" text-anchor="end" font-weight="normal" fill="#1a1a1a"  stroke="#1a1a1a" stroke-width="0.08">MYC TARGETS V1</text>
<text x="378.80" y="514.75" font-size="6.05" text-anchor="end" font-weight="normal" fill="#1a1a1a"  stroke="#1a1a1a" stroke-width="0.08">MYC TARGETS V2</text>
<text x="378.80" y="520.57" font-size="6.05" text-anchor="end" font-weight="normal" fill="#1a1a1a"  stroke="#1a1a1a" stroke-width="0.08">MYOGENESIS</text>
<text x="378.80" y="526.39" font-size="6.05" text-anchor="end" font-weight="normal" fill="#1a1a1a"  stroke="#1a1a1a" stroke-width="0.08">NOTCH SIGNALING</text>
<text x="378.80" y="532.21" font-size="6.05" text-anchor="end" font-weight="normal" fill="#1a1a1a"  stroke="#1a1a1a" stroke-width="0.08">OX. PHOSPHORYLATION</text>
<text x="378.80" y="538.03" font-size="6.05" text-anchor="end" font-weight="normal" fill="#1a1a1a"  stroke="#1a1a1a" stroke-width="0.08">P53 PATHWAY</text>
<text x="378.80" y="543.85" font-size="6.05" text-anchor="end" font-weight="normal" fill="#1a1a1a"  stroke="#1a1a1a" stroke-width="0.08">PROTEIN SECRETION</text>
<text x="378.80" y="549.67" font-size="6.05" text-anchor="end" font-weight="normal" fill="#1a1a1a"  stroke="#1a1a1a" stroke-width="0.08">TGF BETA SIGNALING</text>
<text x="378.80" y="555.49" font-size="6.05" text-anchor="end" font-weight="normal" fill="#1a1a1a"  stroke="#1a1a1a" stroke-width="0.08">TNFA SIGNALING VIA NFKB</text>
<text x="378.80" y="561.31" font-size="6.05" text-anchor="end" font-weight="normal" fill="#1a1a1a"  stroke="#1a1a1a" stroke-width="0.08">UNFOLDED PROTEIN RESPONSE</text>
<text x="378.80" y="567.13" font-size="6.05" text-anchor="end" font-weight="normal" fill="#1a1a1a"  stroke="#1a1a1a" stroke-width="0.08">UV RESPONSE DN</text>
<text x="378.80" y="572.95" font-size="6.05" text-anchor="end" font-weight="normal" fill="#1a1a1a"  stroke="#1a1a1a" stroke-width="0.08">UV RESPONSE UP</text>
<text x="378.80" y="578.77" font-size="6.05" text-anchor="end" font-weight="normal" fill="#1a1a1a"  stroke="#1a1a1a" stroke-width="0.08">WNT BETA CATENIN SIGNALING</text>
<text x="378.80" y="584.59" font-size="6.05" text-anchor="end" font-weight="normal" fill="#1a1a1a"  stroke="#1a1a1a" stroke-width="0.08">XENOBIOTIC METABOLISM</text>
<rect x="380" y="364" width="62.80" height="222.30" fill="#f0f0f0"/>
<path d="M412.4 364V586.3" stroke="#b4b4b4" stroke-width="0.8"/>
<circle cx="425.84" cy="367.10" r="2.25" fill="#e42a20"/>
<circle cx="400.88" cy="372.92" r="2.25" fill="#c6c6c6"/>
<circle cx="398.00" cy="378.74" r="2.25" fill="#f4962c"/>
<circle cx="393.68" cy="384.56" r="2.25" fill="#e42a20"/>
<circle cx="398.00" cy="390.38" r="2.25" fill="#e42a20"/>
<circle cx="395.12" cy="396.20" r="2.25" fill="#e42a20"/>
<circle cx="398.00" cy="402.02" r="2.25" fill="#e42a20"/>
<circle cx="422.00" cy="407.84" r="2.25" fill="#c6c6c6"/>
<circle cx="429.20" cy="413.66" r="2.25" fill="#e42a20"/>
<circle cx="389.36" cy="419.48" r="2.25" fill="#e42a20"/>
<circle cx="393.20" cy="425.30" r="2.25" fill="#e42a20"/>
<circle cx="394.64" cy="431.12" r="2.25" fill="#e42a20"/>
<circle cx="427.76" cy="436.94" r="2.25" fill="#e42a20"/>
<circle cx="426.32" cy="442.76" r="2.25" fill="#e42a20"/>
<circle cx="397.04" cy="448.58" r="2.25" fill="#f4962c"/>
<circle cx="400.88" cy="454.40" r="2.25" fill="#c6c6c6"/>
<circle cx="398.00" cy="460.22" r="2.25" fill="#e42a20"/>
<circle cx="399.92" cy="466.04" r="2.25" fill="#f4962c"/>
<circle cx="397.52" cy="471.86" r="2.25" fill="#f4962c"/>
<circle cx="403.28" cy="477.68" r="2.25" fill="#c6c6c6"/>
<circle cx="437.84" cy="483.50" r="2.25" fill="#e42a20"/>
<circle cx="434.48" cy="489.32" r="2.25" fill="#e42a20"/>
<circle cx="398.00" cy="495.14" r="2.25" fill="#e42a20"/>
<circle cx="398.48" cy="500.96" r="2.25" fill="#e42a20"/>
<circle cx="427.76" cy="506.78" r="2.25" fill="#e42a20"/>
<circle cx="421.04" cy="512.60" r="2.25" fill="#c6c6c6"/>
<circle cx="390.32" cy="518.42" r="2.25" fill="#e42a20"/>
<circle cx="397.04" cy="524.24" r="2.25" fill="#f4962c"/>
<circle cx="426.32" cy="530.06" r="2.25" fill="#e42a20"/>
<circle cx="392.72" cy="535.88" r="2.25" fill="#e42a20"/>
<circle cx="426.80" cy="541.70" r="2.25" fill="#e42a20"/>
<circle cx="394.64" cy="547.52" r="2.25" fill="#e42a20"/>
<circle cx="392.72" cy="553.34" r="2.25" fill="#e42a20"/>
<circle cx="423.92" cy="559.16" r="2.25" fill="#c6c6c6"/>
<circle cx="399.44" cy="564.98" r="2.25" fill="#f4962c"/>
<circle cx="398.48" cy="570.80" r="2.25" fill="#f4962c"/>
<circle cx="395.60" cy="576.62" r="2.25" fill="#e42a20"/>
<circle cx="425.84" cy="582.44" r="2.25" fill="#e42a20"/>
<text x="409.5" y="362.2" font-size="7.4" text-anchor="middle" fill="#111" stroke="#111" stroke-width="0.2">CCl<tspan font-size="5.4" dy="1.6">4</tspan><tspan dy="-1.6"> </tspan>(A220V vs. WT)</text>
<text x="382.50" y="595.10" font-size="8.0" text-anchor="middle" font-weight="normal" fill="#111"  stroke="#111" stroke-width="0.2">−3</text>
<text x="392.10" y="595.10" font-size="8.0" text-anchor="middle" font-weight="normal" fill="#111"  stroke="#111" stroke-width="0.2">−2</text>
<text x="401.70" y="595.10" font-size="8.0" text-anchor="middle" font-weight="normal" fill="#111"  stroke="#111" stroke-width="0.2">−1</text>
<text x="412.40" y="595.10" font-size="8.0" text-anchor="middle" font-weight="normal" fill="#111"  stroke="#111" stroke-width="0.2">0</text>
<text x="422.00" y="595.10" font-size="8.0" text-anchor="middle" font-weight="normal" fill="#111"  stroke="#111" stroke-width="0.2">1</text>
<text x="431.60" y="595.10" font-size="8.0" text-anchor="middle" font-weight="normal" fill="#111"  stroke="#111" stroke-width="0.2">2</text>
<text x="441.20" y="595.10" font-size="8.0" text-anchor="middle" font-weight="normal" fill="#111"  stroke="#111" stroke-width="0.2">3</text>
<rect x="456" y="364" width="64.00" height="222.30" fill="#f0f0f0"/>
<path d="M488.3 364V586.3" stroke="#b4b4b4" stroke-width="0.8"/>
<circle cx="476.90" cy="367.10" r="2.25" fill="#f4962c"/>
<circle cx="474.53" cy="372.92" r="2.25" fill="#e42a20"/>
<circle cx="467.40" cy="378.74" r="2.25" fill="#e42a20"/>
<circle cx="472.62" cy="384.56" r="2.25" fill="#e42a20"/>
<circle cx="470.73" cy="390.38" r="2.25" fill="#e42a20"/>
<circle cx="470.73" cy="396.20" r="2.25" fill="#e42a20"/>
<circle cx="471.20" cy="402.02" r="2.25" fill="#e42a20"/>
<circle cx="503.98" cy="407.84" r="2.25" fill="#e42a20"/>
<circle cx="510.15" cy="413.66" r="2.25" fill="#e42a20"/>
<circle cx="464.55" cy="419.48" r="2.25" fill="#e42a20"/>
<circle cx="470.73" cy="425.30" r="2.25" fill="#e42a20"/>
<circle cx="471.68" cy="431.12" r="2.25" fill="#e42a20"/>
<circle cx="504.45" cy="436.94" r="2.25" fill="#e42a20"/>
<circle cx="504.45" cy="442.76" r="2.25" fill="#e42a20"/>
<circle cx="474.05" cy="448.58" r="2.25" fill="#f4962c"/>
<circle cx="474.05" cy="454.40" r="2.25" fill="#e42a20"/>
<circle cx="469.78" cy="460.22" r="2.25" fill="#e42a20"/>
<circle cx="468.35" cy="466.04" r="2.25" fill="#e42a20"/>
<circle cx="473.10" cy="471.86" r="2.25" fill="#e42a20"/>
<circle cx="470.73" cy="477.68" r="2.25" fill="#e42a20"/>
<circle cx="512.52" cy="483.50" r="2.25" fill="#e42a20"/>
<circle cx="503.98" cy="489.32" r="2.25" fill="#e42a20"/>
<circle cx="475.95" cy="495.14" r="2.25" fill="#f4962c"/>
<circle cx="467.40" cy="500.96" r="2.25" fill="#e42a20"/>
<circle cx="504.45" cy="506.78" r="2.25" fill="#e42a20"/>
<circle cx="503.50" cy="512.60" r="2.25" fill="#f4962c"/>
<circle cx="469.30" cy="518.42" r="2.25" fill="#e42a20"/>
<circle cx="476.90" cy="524.24" r="2.25" fill="#c6c6c6"/>
<circle cx="503.03" cy="530.06" r="2.25" fill="#e42a20"/>
<circle cx="469.78" cy="535.88" r="2.25" fill="#e42a20"/>
<circle cx="498.75" cy="541.70" r="2.25" fill="#c6c6c6"/>
<circle cx="469.30" cy="547.52" r="2.25" fill="#e42a20"/>
<circle cx="465.03" cy="553.34" r="2.25" fill="#e42a20"/>
<circle cx="503.03" cy="559.16" r="2.25" fill="#e42a20"/>
<circle cx="471.68" cy="564.98" r="2.25" fill="#e42a20"/>
<circle cx="475.95" cy="570.80" r="2.25" fill="#f4962c"/>
<circle cx="474.05" cy="576.62" r="2.25" fill="#f4962c"/>
<circle cx="477.38" cy="582.44" r="2.25" fill="#c6c6c6"/>
<text x="485.6" y="362.2" font-size="7.4" text-anchor="middle" fill="#111" stroke="#111" stroke-width="0.2">CCl<tspan font-size="5.4" dy="1.6">4</tspan><tspan dy="-1.6"> </tspan>(KO vs. WT)</text>
<text x="458.70" y="595.10" font-size="8.0" text-anchor="middle" font-weight="normal" fill="#111"  stroke="#111" stroke-width="0.2">−3</text>
<text x="468.20" y="595.10" font-size="8.0" text-anchor="middle" font-weight="normal" fill="#111"  stroke="#111" stroke-width="0.2">−2</text>
<text x="477.70" y="595.10" font-size="8.0" text-anchor="middle" font-weight="normal" fill="#111"  stroke="#111" stroke-width="0.2">−1</text>
<text x="488.30" y="595.10" font-size="8.0" text-anchor="middle" font-weight="normal" fill="#111"  stroke="#111" stroke-width="0.2">0</text>
<text x="497.80" y="595.10" font-size="8.0" text-anchor="middle" font-weight="normal" fill="#111"  stroke="#111" stroke-width="0.2">1</text>
<text x="507.30" y="595.10" font-size="8.0" text-anchor="middle" font-weight="normal" fill="#111"  stroke="#111" stroke-width="0.2">2</text>
<text x="516.80" y="595.10" font-size="8.0" text-anchor="middle" font-weight="normal" fill="#111"  stroke="#111" stroke-width="0.2">3</text>
<rect x="281" y="387.43" width="238.2" height="5.9" fill="#6a6ad0" fill-opacity="0.05" stroke="#3c3cb0" stroke-width="0.8"/>
<rect x="281" y="532.93" width="238.2" height="5.9" fill="#6a6ad0" fill-opacity="0.05" stroke="#3c3cb0" stroke-width="0.8"/>
</g>
<g id="panelI">
<text x="0.40" y="497.40" font-size="9.9" text-anchor="start" font-weight="bold" fill="#000"  stroke="#000" stroke-width="0.12">I</text>
<text x="34.00" y="502.20" font-size="7.5" text-anchor="middle" font-weight="normal" fill="#111"  stroke="#111" stroke-width="0.2">WT</text>
<text x="97.40" y="502.20" font-size="7.5" text-anchor="middle" font-weight="normal" fill="#111"  stroke="#111" stroke-width="0.2">KO</text>
<text x="163.20" y="502.20" font-size="7.5" text-anchor="middle" font-weight="normal" fill="#111"  stroke="#111" stroke-width="0.2">A220V</text>
<g clip-path="url(#hc0)"><rect x="0.8" y="503.6" width="63.8" height="59.2" fill="#e19ab0"/><rect x="0.8" y="503.6" width="63.8" height="59.2" fill="#fff" filter="url(#hn)" opacity="0.6"/><g filter="url(#hdisp)"><path d="M13.3 531.4 L16.1 518.0 L19.0 506.4 L17.1 502.6M13.3 531.4 L8.5 539.1 L4.0 545.9 L0.8 547.8M13.3 531.4 L21.0 536.2 L28.6 540.1 L40.2 541.1 L51.7 543.0M51.7 543.0 L57.5 538.2 L64.2 533.4M51.7 543.0 L52.7 552.6 L54.6 563.2M44.0 510.3 L53.6 507.4 L64.2 506.4M19.0 506.4 L24.8 512.2 L30.6 516.1M0.8 516.1 L7.5 514.1 L16.1 518.0M4.0 545.9 L5.6 556.4 L3.6 563.2M28.6 540.1 L24.8 550.7 L22.9 552.6M44.0 510.3 L40.2 503.6M51.7 543.0 L46.0 550.7" fill="none" stroke="#c8386a" stroke-width="3.0" opacity="0.62" stroke-linejoin="round" stroke-linecap="round" filter="url(#hb2)"/><path d="M13.3 531.4 L16.1 518.0 L19.0 506.4 L17.1 502.6M13.3 531.4 L8.5 539.1 L4.0 545.9 L0.8 547.8M13.3 531.4 L21.0 536.2 L28.6 540.1 L40.2 541.1 L51.7 543.0M51.7 543.0 L57.5 538.2 L64.2 533.4M51.7 543.0 L52.7 552.6 L54.6 563.2M44.0 510.3 L53.6 507.4 L64.2 506.4M19.0 506.4 L24.8 512.2 L30.6 516.1M0.8 516.1 L7.5 514.1 L16.1 518.0M4.0 545.9 L5.6 556.4 L3.6 563.2M28.6 540.1 L24.8 550.7 L22.9 552.6M44.0 510.3 L40.2 503.6M51.7 543.0 L46.0 550.7" fill="none" stroke="#c02e60" stroke-width="0.9" opacity="0.6" stroke-linejoin="round" stroke-linecap="round"/><path d="M14.6 525.3l0.9 -0.9M14.1 527.6l3.1 -0.8M13.6 529.7l-2.2 3.1M14.5 525.5l3.8 0.7M13.6 529.7l-1.9 -2.4M14.6 525.2l1.7 -0.4M17.9 511.0l3.1 2.7M16.6 516.3l-3.7 -0.3M18.7 507.8l3.1 2.2M18.6 508.3l-1.4 3.2M16.8 515.4l1.0 1.4M18.4 505.3l1.2 -2.3M8.5 539.0l1.4 -1.1M11.2 534.8l2.7 1.2M10.3 536.1l-1.3 -0.7M10.3 536.1l2.8 2.4M6.4 542.2l3.4 2.4M4.3 545.5l-2.0 3.5M7.2 541.0l-2.9 -0.6M1.4 547.4l1.2 0.6M14.4 532.2l-2.7 2.4M18.8 534.9l2.7 2.1M14.7 532.4l2.6 0.3M20.3 535.8l2.1 -1.4M27.1 539.3l0.6 1.6M28.3 539.9l-0.8 -1.5M23.5 537.5l0.2 -1.4M30.8 540.3l0.6 -1.8M33.5 540.5l-2.4 1.1M32.2 540.4l0.0 3.6M37.4 540.8l1.3 -0.4M30.5 540.2l1.3 -1.7M49.3 542.6l-0.8 2.2M47.9 542.3l-2.5 1.2M40.6 541.1l1.9 -2.4M43.1 541.5l-3.1 0.5M50.9 542.8l3.9 0.5M55.1 540.1l2.2 0.6M55.9 539.5l2.3 1.9M55.0 540.3l-1.1 -0.6M57.6 538.1l1.7 -0.4M58.7 537.3l-1.1 -0.5M62.4 534.6l0.2 -2.2M52.3 548.8l-3.2 0.3M51.9 544.7l1.5 0.3M52.6 552.0l2.0 -0.2M52.4 550.0l0.4 3.0M53.4 556.7l-3.7 -1.5M54.4 561.8l3.4 -1.5M53.6 557.6l1.1 3.5M53.9 559.4l1.5 1.9M44.5 510.1l0.7 -4.0M44.1 510.3l-2.7 -2.8M52.6 507.7l-0.2 -1.5M49.4 508.7l-1.6 2.5M57.4 507.1l0.7 2.9M54.9 507.3l2.0 2.3M61.5 506.7l1.0 1.0M58.1 507.0l3.4 2.2M20.7 508.1l2.6 0.2M22.1 509.5l-2.7 1.2M19.5 506.9l1.6 2.5M25.0 512.3l-1.8 0.7M29.2 515.1l-3.0 -0.4M26.5 513.4l-2.6 0.1M3.9 515.1l-2.1 -1.7M5.9 514.6l-1.6 0.9M1.1 516.0l1.1 0.5M8.2 514.5l-1.0 -3.0M10.1 515.3l1.0 -1.6M11.0 515.7l-0.6 -1.7M11.1 515.7l-1.0 3.1M4.3 547.7l-3.0 1.5M5.1 553.2l2.3 -0.7M4.9 551.9l0.7 2.1M5.2 553.9l2.2 -0.8M5.4 557.2l-0.6 -1.3M5.1 558.2l2.9 1.1M4.1 561.6l2.4 2.4M27.4 543.5l-2.6 1.2M26.7 545.4l-2.0 -0.8M26.8 545.2l1.4 -1.2M26.8 545.1l0.0 2.2M27.9 542.2l0.8 -2.5M24.7 550.7l1.0 -2.3M43.3 509.1l-1.4 -0.8M41.9 506.6l-0.6 -2.3M42.9 508.3l-1.3 1.0M47.8 548.1l-0.7 1.7M46.8 549.6l1.1 -1.4M48.0 547.9l1.1 1.7M49.5 546.0l1.1 0.5" fill="none" stroke="#c03866" stroke-width="0.6" opacity="0.38" stroke-linecap="round"/><ellipse cx="13.3" cy="531.4" rx="1.82" ry="2.86" fill="#f9d6de" stroke="#c44a74" stroke-width="0.5" transform="rotate(0 13.3 531.4)"/><ellipse cx="51.7" cy="543.9" rx="1.56" ry="3.12" fill="#f9d6de" stroke="#c44a74" stroke-width="0.5" transform="rotate(10 51.7 543.9)"/><ellipse cx="35.8" cy="525.3" rx="2.34" ry="1.82" fill="#f9d6de" stroke="#c44a74" stroke-width="0.5" transform="rotate(-20 35.8 525.3)"/><ellipse cx="28.6" cy="524.1" rx="2.60" ry="1.30" fill="#f9d6de" stroke="#c44a74" stroke-width="0.5" transform="rotate(30 28.6 524.1)"/><ellipse cx="22.9" cy="550.7" rx="3.12" ry="1.30" fill="#f9d6de" stroke="#c44a74" stroke-width="0.5" transform="rotate(-25 22.9 550.7)"/><ellipse cx="34.4" cy="557.4" rx="1.30" ry="2.86" fill="#f9d6de" stroke="#c44a74" stroke-width="0.5" transform="rotate(10 34.4 557.4)"/><ellipse cx="4.0" cy="545.9" rx="1.30" ry="2.60" fill="#f9d6de" stroke="#c44a74" stroke-width="0.5" transform="rotate(0 4.0 545.9)"/><ellipse cx="54.6" cy="519.5" rx="1.30" ry="1.04" fill="#f9d6de" stroke="#c44a74" stroke-width="0.5" transform="rotate(0 54.6 519.5)"/></g></g>
<g clip-path="url(#hc1)"><rect x="66.6" y="503.6" width="63.0" height="59.2" fill="#e19ab0"/><rect x="66.6" y="503.6" width="63.0" height="59.2" fill="#fff" filter="url(#hn)" opacity="0.6"/><g filter="url(#hdisp)"><path d="M66.6 519.2 L76.8 521.4 L87.6 521.9 L95.7 515.2 L109.1 513.8 L119.9 511.7 L130.1 508.4M87.6 521.9 L90.8 530.0 L93.0 538.1 L87.6 546.1 L82.2 552.9 L74.1 551.0 L66.6 548.8M93.0 538.1 L99.7 543.4 L105.1 547.5 L111.8 541.3 L118.6 535.4 L130.1 532.7M105.1 547.5 L103.2 555.6 L101.1 562.3M118.6 535.4 L116.7 525.9 L114.5 516.5 L113.2 507.1 L114.5 503.6M82.2 552.9 L83.6 558.3 L84.9 562.3M66.6 505.8 L72.8 511.1 L76.8 521.4M95.7 515.2 L93.0 508.4 L94.3 503.6M118.6 535.4 L124.0 548.8 L130.1 552.9M66.6 535.4 L74.1 538.1 L82.2 552.9" fill="none" stroke="#c8386a" stroke-width="3.0" opacity="0.62" stroke-linejoin="round" stroke-linecap="round" filter="url(#hb2)"/><path d="M66.6 519.2 L76.8 521.4 L87.6 521.9 L95.7 515.2 L109.1 513.8 L119.9 511.7 L130.1 508.4M87.6 521.9 L90.8 530.0 L93.0 538.1 L87.6 546.1 L82.2 552.9 L74.1 551.0 L66.6 548.8M93.0 538.1 L99.7 543.4 L105.1 547.5 L111.8 541.3 L118.6 535.4 L130.1 532.7M105.1 547.5 L103.2 555.6 L101.1 562.3M118.6 535.4 L116.7 525.9 L114.5 516.5 L113.2 507.1 L114.5 503.6M82.2 552.9 L83.6 558.3 L84.9 562.3M66.6 505.8 L72.8 511.1 L76.8 521.4M95.7 515.2 L93.0 508.4 L94.3 503.6M118.6 535.4 L124.0 548.8 L130.1 552.9M66.6 535.4 L74.1 538.1 L82.2 552.9" fill="none" stroke="#c02e60" stroke-width="0.9" opacity="0.6" stroke-linejoin="round" stroke-linecap="round"/><path d="M70.5 520.0l0.2 1.7M75.9 521.2l-2.9 -1.5M72.3 520.4l-2.5 2.3M72.5 520.5l0.6 -3.1M85.9 521.8l-1.5 0.6M78.4 521.5l-0.3 -1.7M83.9 521.7l-1.0 -0.9M85.3 521.8l3.7 0.8M94.4 516.2l0.7 3.3M93.5 517.0l2.3 2.3M88.6 521.1l2.8 -1.7M95.5 515.3l2.0 0.7M104.0 514.3l-1.4 -1.1M107.6 514.0l1.2 -1.7M97.6 515.0l-1.2 -2.1M104.6 514.3l-2.4 0.1M96.0 515.1l1.7 1.9M105.5 514.2l-3.1 1.5M115.0 512.7l2.3 -2.2M112.6 513.1l0.9 1.1M109.6 513.7l2.5 -2.9M117.2 512.2l2.5 2.0M121.2 511.3l2.4 -2.0M127.6 509.3l-1.9 -1.6M128.6 508.9l1.9 -0.5M124.4 510.3l-0.3 -3.2M88.9 525.2l-3.9 1.3M88.5 524.1l0.8 3.2M88.5 524.1l1.7 -1.3M92.8 537.5l-2.8 2.6M92.5 536.1l-0.2 -1.8M91.2 531.3l1.7 0.3M89.4 543.4l1.8 0.8M89.9 542.6l1.2 1.8M91.8 539.9l-0.7 -1.4M87.6 546.1l-2.7 -1.9M84.6 549.9l-4.1 0.1M82.8 552.2l0.6 -1.2M84.4 550.1l2.9 -1.1M78.1 551.9l-1.0 -1.4M76.3 551.5l0.3 -1.4M78.1 551.9l-1.9 -1.3M69.0 549.5l3.5 -1.8M71.8 550.3l2.2 3.1M69.5 549.7l1.8 -3.3M94.9 539.6l-1.8 -1.1M98.4 542.4l-0.7 -1.8M96.4 540.8l-1.6 -1.1M100.7 544.2l-1.4 0.2M102.4 545.4l3.4 -1.4M100.0 543.7l1.5 -3.0M109.9 543.1l3.4 0.6M106.4 546.3l0.7 -2.0M107.6 545.2l1.8 3.4M106.6 546.1l1.9 -2.0M112.8 540.4l-1.6 -2.3M112.0 541.1l0.9 -1.8M112.0 541.2l0.3 -3.4M114.4 539.0l1.1 2.6M125.4 533.8l-1.0 -2.5M125.1 533.8l-0.3 -1.7M120.7 534.9l-3.4 0.3M127.9 533.2l1.5 -2.0M126.8 533.5l1.9 1.5M105.0 548.0l2.1 -3.6M103.8 552.9l0.0 -2.3M103.6 553.9l2.0 1.2M102.5 557.9l1.1 -1.3M102.9 556.6l3.2 2.0M102.5 557.7l1.8 -1.2M117.0 527.5l1.3 3.7M116.7 526.2l2.4 -2.3M116.9 526.9l3.5 -2.1M118.0 532.8l2.1 -2.9M115.9 522.7l1.9 3.4M115.7 521.5l-3.8 -0.7M115.6 521.4l-0.1 3.3M115.5 520.9l-0.5 3.2M113.3 508.0l0.1 3.6M113.5 509.4l-1.8 -0.3M113.6 510.3l-0.4 1.9M113.4 508.5l-0.2 1.5M114.3 504.1l2.1 -0.1M82.8 555.1l-3.3 -1.0M82.2 552.9l-1.1 -1.5M84.8 562.0l-3.5 2.1M69.4 508.2l-0.7 -1.1M67.9 506.8l-0.7 2.2M67.7 506.7l-1.3 0.7M75.1 516.9l3.7 -0.9M75.3 517.5l3.4 -0.4M75.4 517.6l-1.4 0.4M76.4 520.3l2.9 -2.2M93.8 510.5l1.6 -3.8M93.1 508.6l0.2 -1.2M93.1 508.8l-2.3 -1.1M93.6 506.4l-0.2 1.3M93.8 505.4l-1.1 -1.0M123.5 547.8l3.1 -2.2M121.5 542.6l-2.0 1.7M120.6 540.4l3.8 -1.1M123.4 547.5l-2.7 -0.3M122.3 544.6l-0.4 1.7M123.9 548.6l-0.2 2.0M127.0 550.8l2.4 1.5M124.9 549.5l0.7 -1.3M128.9 552.1l-0.4 3.5M72.6 537.5l1.7 -0.5M74.0 538.0l1.3 1.8M66.7 535.4l-1.4 0.1M78.6 546.3l3.2 -1.4M79.4 547.7l3.5 2.2M77.1 543.5l1.6 -0.5M76.6 542.5l3.3 -1.1M75.6 540.8l-2.7 0.7M76.2 541.8l0.3 1.4M78.3 545.6l-1.9 1.1" fill="none" stroke="#c03866" stroke-width="0.6" opacity="0.5" stroke-linecap="round"/><ellipse cx="80.9" cy="552.3" rx="2.91" ry="2.91" fill="#f9d6de" stroke="#c44a74" stroke-width="0.5" transform="rotate(0 80.9 552.3)"/><ellipse cx="98.4" cy="546.1" rx="6.54" ry="1.45" fill="#f9d6de" stroke="#c44a74" stroke-width="0.5" transform="rotate(-20 98.4 546.1)"/><ellipse cx="71.4" cy="511.7" rx="5.82" ry="1.45" fill="#f9d6de" stroke="#c44a74" stroke-width="0.5" transform="rotate(35 71.4 511.7)"/><ellipse cx="91.6" cy="548.8" rx="1.45" ry="1.45" fill="#f9d6de" stroke="#c44a74" stroke-width="0.5" transform="rotate(0 91.6 548.8)"/><ellipse cx="126.9" cy="518.7" rx="1.45" ry="1.45" fill="#f9d6de" stroke="#c44a74" stroke-width="0.5" transform="rotate(0 126.9 518.7)"/><ellipse cx="87.6" cy="527.3" rx="1.45" ry="1.45" fill="#f9d6de" stroke="#c44a74" stroke-width="0.5" transform="rotate(0 87.6 527.3)"/></g></g>
<g clip-path="url(#hc2)"><rect x="131.6" y="503.6" width="62.4" height="59.2" fill="#e19ab0"/><rect x="131.6" y="503.6" width="62.4" height="59.2" fill="#fff" filter="url(#hn)" opacity="0.6"/><g filter="url(#hdisp)"><path d="M131.6 530.0 L138.3 525.1 L143.7 521.9 L149.1 525.1 L154.5 528.6 L161.2 525.1 L167.9 521.9 L173.3 516.5 L178.7 511.1 L186.8 513.8 L194.1 516.5M143.7 521.9 L141.8 515.2 L141.0 508.4 L145.1 505.8 L149.1 503.6M154.5 528.6 L153.1 535.4 L151.8 543.4 L145.1 541.3 L138.3 540.8 L134.3 544.8 L131.6 548.8M151.8 543.4 L157.2 552.9 L162.6 562.3M167.9 521.9 L174.7 530.0 L181.4 538.1 L188.1 536.7 L194.1 535.4M181.4 538.1 L180.1 550.2 L178.7 562.3M178.7 511.1 L176.0 503.6M138.3 540.8 L137.0 552.9 L134.3 562.3M162.6 562.3 L167.9 555.6 L178.7 552.9" fill="none" stroke="#c8386a" stroke-width="3.0" opacity="0.62" stroke-linejoin="round" stroke-linecap="round" filter="url(#hb2)"/><path d="M131.6 530.0 L138.3 525.1 L143.7 521.9 L149.1 525.1 L154.5 528.6 L161.2 525.1 L167.9 521.9 L173.3 516.5 L178.7 511.1 L186.8 513.8 L194.1 516.5M143.7 521.9 L141.8 515.2 L141.0 508.4 L145.1 505.8 L149.1 503.6M154.5 528.6 L153.1 535.4 L151.8 543.4 L145.1 541.3 L138.3 540.8 L134.3 544.8 L131.6 548.8M151.8 543.4 L157.2 552.9 L162.6 562.3M167.9 521.9 L174.7 530.0 L181.4 538.1 L188.1 536.7 L194.1 535.4M181.4 538.1 L180.1 550.2 L178.7 562.3M178.7 511.1 L176.0 503.6M138.3 540.8 L137.0 552.9 L134.3 562.3M162.6 562.3 L167.9 555.6 L178.7 552.9" fill="none" stroke="#c02e60" stroke-width="0.9" opacity="0.6" stroke-linejoin="round" stroke-linecap="round"/><path d="M135.9 526.9l2.0 0.3M133.1 528.9l-0.3 -3.2M137.6 525.7l2.1 1.3M138.5 525.0l0.5 2.7M138.5 525.1l1.0 3.0M146.7 523.7l0.5 2.9M148.1 524.5l3.6 0.1M152.9 527.6l-0.9 1.4M154.3 528.5l-0.8 1.3M155.1 528.3l1.7 -2.5M159.9 525.8l-0.4 -2.8M161.0 525.2l-2.1 2.0M166.8 522.5l-2.8 -2.6M165.1 523.3l-0.4 -1.3M162.8 524.4l-0.4 1.4M169.2 520.7l1.6 1.2M171.4 518.5l-1.5 1.7M169.1 520.8l-0.4 4.0M176.8 513.0l-1.3 -1.1M177.3 512.6l1.2 2.0M178.7 511.2l-1.8 -2.2M184.2 513.0l1.9 -2.9M180.6 511.8l2.1 0.4M180.9 511.9l1.0 3.9M193.2 516.2l-1.3 2.9M189.7 514.9l2.2 -1.3M188.7 514.5l0.1 2.9M143.2 520.1l-3.4 -2.0M143.0 519.2l0.8 4.1M142.8 518.5l1.1 0.7M141.7 514.4l-2.5 -2.6M141.5 512.3l2.2 0.9M141.0 508.5l-4.0 -0.7M144.5 506.1l3.4 0.2M143.8 506.6l-1.9 -0.5M147.7 504.4l1.9 1.6M146.9 504.8l3.7 -1.1M154.1 530.4l-1.7 -0.0M153.3 534.8l1.4 -1.5M153.6 532.9l-1.3 -1.0M152.1 541.5l-3.4 -0.9M152.4 539.7l2.2 0.0M153.1 535.5l3.5 -1.7M146.2 541.7l-0.5 1.3M145.9 541.6l1.4 -0.5M148.5 542.4l3.2 1.5M139.9 540.9l1.8 1.9M141.4 541.0l-0.4 3.8M142.2 541.1l0.7 2.7M135.4 543.7l0.6 2.0M134.3 544.8l-1.5 -2.0M132.9 546.9l1.4 1.3M133.4 546.2l-1.6 -1.0M153.0 545.5l2.8 1.3M153.0 545.6l3.1 -2.1M152.2 544.1l0.2 3.2M152.9 545.5l2.7 3.0M160.3 558.3l-3.5 0.6M161.5 560.5l0.5 1.4M159.5 556.9l-2.3 1.2M161.1 559.7l-1.9 -3.7M168.6 522.7l-1.8 1.3M173.7 528.9l0.0 1.8M171.0 525.5l-1.8 1.0M169.6 523.9l2.2 -1.2M180.5 536.9l-1.3 -0.4M181.4 538.1l2.1 -3.5M180.9 537.5l1.0 -1.4M177.9 533.9l0.5 2.3M181.8 538.0l-3.0 2.9M183.2 537.7l0.5 -2.5M184.3 537.5l4.0 -1.1M191.4 536.0l-0.3 -1.6M189.9 536.3l2.9 -0.6M180.7 544.6l-0.0 -1.4M180.6 545.1l-3.8 -0.1M181.2 540.0l1.4 -0.4M181.2 540.3l-2.7 -1.8M181.1 540.9l2.8 2.6M179.7 553.2l-2.5 -1.7M179.5 555.3l-2.4 -1.4M178.8 561.5l0.9 3.2M179.7 553.1l-2.6 2.0M179.7 553.8l-1.4 3.2M178.5 510.6l-4.1 1.1M176.0 503.6l1.6 0.8M178.0 509.1l3.5 -1.6M137.1 551.4l-1.1 1.2M137.2 550.9l-0.9 -2.9M137.0 552.7l-0.7 -1.0M137.2 550.7l-1.0 3.0M137.1 552.1l1.0 1.2M136.7 553.9l-1.9 -0.7M135.4 558.6l-0.4 -1.8M135.3 558.8l-0.2 2.7M134.5 561.4l0.8 -1.2M164.8 559.4l-0.2 1.2M166.7 557.1l-1.3 -1.5M166.6 557.3l-2.4 -0.8M168.1 555.5l3.4 1.8M177.7 553.1l-3.6 -1.0M174.2 554.0l0.9 1.3M171.3 554.7l2.9 -2.1M177.2 553.2l1.5 -1.1" fill="none" stroke="#c03866" stroke-width="0.6" opacity="0.5" stroke-linecap="round"/><ellipse cx="143.7" cy="521.9" rx="2.54" ry="3.63" fill="#f9d6de" stroke="#c44a74" stroke-width="0.5" transform="rotate(0 143.7 521.9)"/><ellipse cx="155.0" cy="528.6" rx="5.45" ry="1.82" fill="#f9d6de" stroke="#c44a74" stroke-width="0.5" transform="rotate(25 155.0 528.6)"/><ellipse cx="159.9" cy="512.8" rx="2.18" ry="2.54" fill="#f9d6de" stroke="#c44a74" stroke-width="0.5" transform="rotate(0 159.9 512.8)"/><ellipse cx="155.8" cy="542.6" rx="1.82" ry="2.18" fill="#f9d6de" stroke="#c44a74" stroke-width="0.5" transform="rotate(0 155.8 542.6)"/><ellipse cx="170.6" cy="530.0" rx="1.82" ry="2.18" fill="#f9d6de" stroke="#c44a74" stroke-width="0.5" transform="rotate(0 170.6 530.0)"/><ellipse cx="135.9" cy="539.4" rx="2.18" ry="3.27" fill="#f9d6de" stroke="#c44a74" stroke-width="0.5" transform="rotate(0 135.9 539.4)"/><ellipse cx="180.6" cy="540.8" rx="1.82" ry="1.82" fill="#f9d6de" stroke="#c44a74" stroke-width="0.5" transform="rotate(0 180.6 540.8)"/><ellipse cx="132.9" cy="558.3" rx="1.82" ry="1.82" fill="#f9d6de" stroke="#c44a74" stroke-width="0.5" transform="rotate(0 132.9 558.3)"/></g></g>
<rect x="177.3" y="558.0" width="14.7" height="1.3" fill="#111"/>
<path d="M219.0 495.42V563.1H267.4" fill="none" stroke="#555" stroke-width="1.0"/>
<path d="M215.8 563.10H219.0" stroke="#222" stroke-width="0.7"/>
<text x="214.00" y="565.70" font-size="7.3" text-anchor="end" font-weight="normal" fill="#111" stroke="#111" stroke-width="0.15">0</text>
<path d="M215.8 546.18H219.0" stroke="#222" stroke-width="0.7"/>
<text x="214.00" y="548.78" font-size="7.3" text-anchor="end" font-weight="normal" fill="#111" stroke="#111" stroke-width="0.15">2</text>
<path d="M215.8 529.26H219.0" stroke="#222" stroke-width="0.7"/>
<text x="214.00" y="531.86" font-size="7.3" text-anchor="end" font-weight="normal" fill="#111" stroke="#111" stroke-width="0.15">4</text>
<path d="M215.8 512.34H219.0" stroke="#222" stroke-width="0.7"/>
<text x="214.00" y="514.94" font-size="7.3" text-anchor="end" font-weight="normal" fill="#111" stroke="#111" stroke-width="0.15">6</text>
<path d="M215.8 495.42H219.0" stroke="#222" stroke-width="0.7"/>
<text x="214.00" y="498.02" font-size="7.3" text-anchor="end" font-weight="normal" fill="#111" stroke="#111" stroke-width="0.15">8</text>
<path d="M228.7 563.1v3" stroke="#222" stroke-width="0.7"/>
<path d="M224.1 544.49h9.2M228.7 540.68V548.30M226.1 540.68h5.2M226.1 548.30h5.2" stroke="#222" stroke-width="0.7" fill="none"/>
<circle cx="227.0" cy="538.57" r="1.45" fill="#111"/>
<circle cx="230.1" cy="540.26" r="1.45" fill="#111"/>
<circle cx="226.6" cy="540.26" r="1.45" fill="#111"/>
<circle cx="228.7" cy="544.49" r="1.45" fill="#111"/>
<circle cx="230.8" cy="544.49" r="1.45" fill="#111"/>
<circle cx="227.0" cy="547.03" r="1.45" fill="#111"/>
<circle cx="230.4" cy="547.45" r="1.45" fill="#111"/>
<circle cx="228.7" cy="550.41" r="1.45" fill="#111"/>
<path d="M243.1 563.1v3" stroke="#222" stroke-width="0.7"/>
<path d="M238.5 530.11h9.2M243.1 522.07V538.14M240.5 522.07h5.2M240.5 538.14h5.2" stroke="#222" stroke-width="0.7" fill="none"/>
<circle cx="243.1" cy="516.15" r="1.45" fill="#111"/>
<circle cx="243.1" cy="521.65" r="1.45" fill="#111"/>
<circle cx="241.7" cy="530.11" r="1.45" fill="#111"/>
<circle cx="244.4" cy="530.11" r="1.45" fill="#111"/>
<circle cx="241.4" cy="535.18" r="1.45" fill="#111"/>
<circle cx="244.7" cy="535.61" r="1.45" fill="#111"/>
<circle cx="243.1" cy="536.87" r="1.45" fill="#111"/>
<circle cx="243.1" cy="540.26" r="1.45" fill="#111"/>
<path d="M257.3 563.1v3" stroke="#222" stroke-width="0.7"/>
<path d="M252.70000000000002 523.34h9.2M257.3 510.23V536.45M254.70000000000002 510.23h5.2M254.70000000000002 536.45h5.2" stroke="#222" stroke-width="0.7" fill="none"/>
<circle cx="257.3" cy="503.88" r="1.45" fill="#111"/>
<circle cx="257.3" cy="515.72" r="1.45" fill="#111"/>
<circle cx="256.9" cy="517.84" r="1.45" fill="#111"/>
<circle cx="256.4" cy="523.34" r="1.45" fill="#111"/>
<circle cx="258.2" cy="523.34" r="1.45" fill="#111"/>
<circle cx="257.3" cy="534.34" r="1.45" fill="#111"/>
<circle cx="257.3" cy="544.49" r="1.45" fill="#111"/>
<path d="M227.9 498.1H257.4" stroke="#555" stroke-width="0.7"/>
<path d="M227.9 513.1H242.7" stroke="#444" stroke-width="0.8"/>
<text x="243.20" y="498.80" font-size="7.4" text-anchor="middle" font-weight="normal" fill="#111" letter-spacing="0.3" stroke="#111" stroke-width="0.2">**</text>
<text x="235.80" y="514.00" font-size="7.4" text-anchor="middle" font-weight="normal" fill="#111" letter-spacing="0.3" stroke="#111" stroke-width="0.2">**</text>
<text x="231.30" y="572.90" font-size="7.5" text-anchor="end" font-weight="normal" fill="#111" transform="rotate(-45 231.29999999999998 572.9)" stroke="#111" stroke-width="0.2">WT</text>
<text x="245.70" y="572.90" font-size="7.5" text-anchor="end" font-weight="normal" fill="#111" transform="rotate(-45 245.7 572.9)" stroke="#111" stroke-width="0.2">KO</text>
<text x="259.90" y="572.90" font-size="7.5" text-anchor="end" font-weight="normal" fill="#111" transform="rotate(-45 259.90000000000003 572.9)" stroke="#111" stroke-width="0.2">A220V</text>
<text x="204.60" y="530.00" font-size="7.6" text-anchor="middle" font-weight="normal" fill="#111" transform="rotate(-90 204.6 530)" stroke="#111" stroke-width="0.2">Fibrotic area (%)</text>
</g>
<g id="panelJ">
<text x="131.40" y="608.30" font-size="9.9" text-anchor="start" font-weight="bold" fill="#000"  stroke="#000" stroke-width="0.12">J</text>
<text x="192.40" y="608.30" font-size="7.5" text-anchor="middle" font-weight="bold" fill="#111"  stroke="#111" stroke-width="0.12">α-Helix mutants</text>
<text x="273.20" y="608.30" font-size="7.5" text-anchor="middle" font-weight="bold" fill="#111"  stroke="#111" stroke-width="0.12">Normal NBs</text>
<text x="358.60" y="608.00" font-size="7.5" text-anchor="middle" font-weight="bold" fill="#111"  stroke="#111" stroke-width="0.12">ATO-treated NBs</text>
<text x="140.40" y="632.40" font-size="7.5" text-anchor="middle" font-weight="normal" fill="#111"  stroke="#111" stroke-width="0.2">B2</text>
<ellipse cx="140.5" cy="646.1" rx="3.0" ry="8.3" fill="#f7ec13" stroke="#8a8420" stroke-width="0.5" transform="rotate(-4 140.5 646.1)"/>
<path d="M151.3 642.2H160.5" stroke="#111" stroke-width="1.4"/><path d="M164 642.2L159.0 639.5L160.3 642.2L159.0 644.9000000000001Z" fill="#111"/>
<path d="M164 651.0H155.0" stroke="#111" stroke-width="1.4"/><path d="M151.5 651.0L156.5 648.3L155.2 651.0L156.5 653.7Z" fill="#111"/>
<ellipse cx="194.7" cy="624.0" rx="4.7" ry="12.4" fill="#f7ec13" stroke="#8a8420" stroke-width="0.5" transform="rotate(0 194.7 624.0)"/>
<ellipse cx="178.1" cy="665.6" rx="4.7" ry="11.8" fill="#f7ec13" stroke="#8a8420" stroke-width="0.5" transform="rotate(45 178.1 665.6)"/>
<ellipse cx="209.6" cy="665.6" rx="4.7" ry="11.8" fill="#f7ec13" stroke="#8a8420" stroke-width="0.5" transform="rotate(-45 209.6 665.6)"/>
<circle cx="194.2" cy="650.6" r="14.9" fill="#e2e2e2" stroke="#9a9a9a" stroke-width="0.6" stroke-dasharray="1.6 1.4"/>
<text x="193.60" y="643.60" font-size="7.5" text-anchor="middle" font-weight="normal" fill="#111"  stroke="#111" stroke-width="0.2">C213</text>
<text x="176.20" y="655.00" font-size="7.5" text-anchor="middle" font-weight="normal" fill="#111"  stroke="#111" stroke-width="0.2">C213</text>
<text x="210.90" y="655.00" font-size="7.5" text-anchor="middle" font-weight="normal" fill="#111"  stroke="#111" stroke-width="0.2">C213</text>
<text x="194.80" y="686.00" font-size="7.5" text-anchor="middle" font-weight="normal" fill="#111"  stroke="#111" stroke-width="0.2">Liquid-like NBs</text>
<path d="M227.3 643.3H236.1" stroke="#111" stroke-width="1.4"/><path d="M239.6 643.3L234.6 640.5999999999999L235.9 643.3L234.6 646.0Z" fill="#111"/>
<path d="M239.6 652.2H231.0" stroke="#111" stroke-width="1.4" stroke-dasharray="2.2 1.6"/><path d="M227.5 652.2L232.5 649.5L231.2 652.2L232.5 654.9000000000001Z" fill="#111"/>
<ellipse cx="273.0" cy="623.8" rx="4.6" ry="12.2" fill="#f7ec13" stroke="#8a8420" stroke-width="0.5" transform="rotate(0 273.0 623.8)"/>
<ellipse cx="256.6" cy="666.3" rx="4.7" ry="11.8" fill="#f7ec13" stroke="#8a8420" stroke-width="0.5" transform="rotate(45 256.6 666.3)"/>
<ellipse cx="287.8" cy="666.3" rx="4.7" ry="11.8" fill="#f7ec13" stroke="#8a8420" stroke-width="0.5" transform="rotate(-45 287.8 666.3)"/>
<circle cx="271.8" cy="649.2" r="16" fill="url(#nbblue)"/>
<text x="262.2" y="643.2" font-size="7.5" fill="#111" stroke="#111" stroke-width="0.2">C213<tspan font-size="7.2" dy="-0.6">*</tspan></text>
<text x="244.8" y="655.0" font-size="7.5" fill="#111" stroke="#111" stroke-width="0.2">C213<tspan font-size="7.2" dy="-0.6">*</tspan></text>
<text x="281.2" y="655.0" font-size="7.5" fill="#111" stroke="#111" stroke-width="0.2">C213<tspan font-size="7.2" dy="-0.6">*</tspan></text>
<text x="280.60" y="629.80" font-size="7.5" text-anchor="start" font-weight="normal" fill="#111"  stroke="#111" stroke-width="0.2">α-Helix</text>
<text x="298.30" y="642.90" font-size="7.5" text-anchor="start" font-weight="normal" fill="#111"  stroke="#111" stroke-width="0.2">ROS</text>
<path d="M298.4 643.2L293 647" stroke="#111" stroke-width="0.9"/><path d="M290.4 648.8L295.3 647.8L293.1 644.7Z" fill="#111"/>
<text x="320.90" y="645.20" font-size="7.5" text-anchor="start" font-weight="normal" fill="#111"  stroke="#111" stroke-width="0.2">As</text>
<path d="M316.9 649.3H331.1" stroke="#111" stroke-width="1.4"/><path d="M334.6 649.3L329.6 646.5999999999999L330.90000000000003 649.3L329.6 652.0Z" fill="#111"/>
<circle cx="360" cy="648.7" r="15.7" fill="#f2565c"/>
<ellipse cx="359.7" cy="633.8" rx="4.5" ry="10.6" fill="#f7ec13" stroke="#8a8420" stroke-width="0.5" transform="rotate(0 359.7 633.8)"/>
<ellipse cx="350.0" cy="657.0" rx="4.4" ry="10.8" fill="#f7ec13" stroke="#8a8420" stroke-width="0.5" transform="rotate(48 350.0 657.0)"/>
<ellipse cx="370.4" cy="657.0" rx="4.4" ry="10.8" fill="#f7ec13" stroke="#8a8420" stroke-width="0.5" transform="rotate(-48 370.4 657.0)"/>
<circle cx="360.3" cy="647.8" r="9.3" fill="#fff" stroke="#23237c" stroke-width="1.3"/>
<text x="360.00" y="650.60" font-size="8.0" text-anchor="middle" font-weight="bold" fill="#111"  stroke="#111" stroke-width="0.12">As</text>
<text x="361.00" y="685.40" font-size="7.5" text-anchor="middle" font-weight="normal" fill="#111"  stroke="#111" stroke-width="0.2">Gel-like NBs</text>
<path d="M193 701.6L366.6 689.2V700.4Z" fill="url(#trig)" stroke="#40408c" stroke-width="0.35" stroke-opacity="0.7"/>
<text x="282.00" y="711.40" font-size="7.5" text-anchor="middle" font-weight="normal" fill="#111"  stroke="#111" stroke-width="0.2">B2 trimer interaction strength</text>
</g>
</svg>
</body></html>
